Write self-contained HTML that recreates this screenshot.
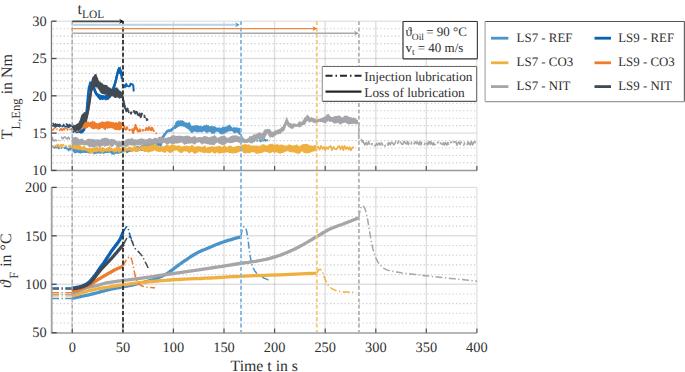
<!DOCTYPE html>
<html><head><meta charset="utf-8"><title>chart</title>
<style>html,body{margin:0;padding:0;background:#fff;}body{width:685px;height:372px;position:relative;overflow:hidden;font-family:"Liberation Serif",serif;}</style>
</head><body>
<svg width="685" height="372" viewBox="0 0 685 372" text-rendering="geometricPrecision" style="position:absolute;left:0;top:0">
<rect width="685" height="372" fill="#fff"/>
<line x1="52.8" y1="162.9" x2="476.9" y2="162.9" stroke="#cdcdcd" stroke-width="1.1" stroke-dasharray="1.3 2.3"/>
<line x1="52.8" y1="155.5" x2="476.9" y2="155.5" stroke="#cdcdcd" stroke-width="1.1" stroke-dasharray="1.3 2.3"/>
<line x1="52.8" y1="148.0" x2="476.9" y2="148.0" stroke="#cdcdcd" stroke-width="1.1" stroke-dasharray="1.3 2.3"/>
<line x1="52.8" y1="140.6" x2="476.9" y2="140.6" stroke="#cdcdcd" stroke-width="1.1" stroke-dasharray="1.3 2.3"/>
<line x1="52.8" y1="125.6" x2="476.9" y2="125.6" stroke="#cdcdcd" stroke-width="1.1" stroke-dasharray="1.3 2.3"/>
<line x1="52.8" y1="118.2" x2="476.9" y2="118.2" stroke="#cdcdcd" stroke-width="1.1" stroke-dasharray="1.3 2.3"/>
<line x1="52.8" y1="110.7" x2="476.9" y2="110.7" stroke="#cdcdcd" stroke-width="1.1" stroke-dasharray="1.3 2.3"/>
<line x1="52.8" y1="103.3" x2="476.9" y2="103.3" stroke="#cdcdcd" stroke-width="1.1" stroke-dasharray="1.3 2.3"/>
<line x1="52.8" y1="88.3" x2="476.9" y2="88.3" stroke="#cdcdcd" stroke-width="1.1" stroke-dasharray="1.3 2.3"/>
<line x1="52.8" y1="80.9" x2="476.9" y2="80.9" stroke="#cdcdcd" stroke-width="1.1" stroke-dasharray="1.3 2.3"/>
<line x1="52.8" y1="73.4" x2="476.9" y2="73.4" stroke="#cdcdcd" stroke-width="1.1" stroke-dasharray="1.3 2.3"/>
<line x1="52.8" y1="66.0" x2="476.9" y2="66.0" stroke="#cdcdcd" stroke-width="1.1" stroke-dasharray="1.3 2.3"/>
<line x1="52.8" y1="51.0" x2="476.9" y2="51.0" stroke="#cdcdcd" stroke-width="1.1" stroke-dasharray="1.3 2.3"/>
<line x1="52.8" y1="43.6" x2="476.9" y2="43.6" stroke="#cdcdcd" stroke-width="1.1" stroke-dasharray="1.3 2.3"/>
<line x1="52.8" y1="36.1" x2="476.9" y2="36.1" stroke="#cdcdcd" stroke-width="1.1" stroke-dasharray="1.3 2.3"/>
<line x1="52.8" y1="28.7" x2="476.9" y2="28.7" stroke="#cdcdcd" stroke-width="1.1" stroke-dasharray="1.3 2.3"/>
<line x1="51.6" y1="58.5" x2="476.9" y2="58.5" stroke="#000" stroke-opacity="0.125" stroke-width="1.4"/>
<line x1="51.6" y1="95.8" x2="476.9" y2="95.8" stroke="#000" stroke-opacity="0.125" stroke-width="1.4"/>
<line x1="51.6" y1="133.1" x2="476.9" y2="133.1" stroke="#000" stroke-opacity="0.125" stroke-width="1.4"/>
<line x1="72.3" y1="21.2" x2="72.3" y2="170.4" stroke="#000" stroke-opacity="0.125" stroke-width="1.4"/>
<line x1="122.9" y1="21.2" x2="122.9" y2="170.4" stroke="#000" stroke-opacity="0.125" stroke-width="1.4"/>
<line x1="173.4" y1="21.2" x2="173.4" y2="170.4" stroke="#000" stroke-opacity="0.125" stroke-width="1.4"/>
<line x1="224.0" y1="21.2" x2="224.0" y2="170.4" stroke="#000" stroke-opacity="0.125" stroke-width="1.4"/>
<line x1="274.6" y1="21.2" x2="274.6" y2="170.4" stroke="#000" stroke-opacity="0.125" stroke-width="1.4"/>
<line x1="325.2" y1="21.2" x2="325.2" y2="170.4" stroke="#000" stroke-opacity="0.125" stroke-width="1.4"/>
<line x1="375.8" y1="21.2" x2="375.8" y2="170.4" stroke="#000" stroke-opacity="0.125" stroke-width="1.4"/>
<line x1="426.3" y1="21.2" x2="426.3" y2="170.4" stroke="#000" stroke-opacity="0.125" stroke-width="1.4"/>
<line x1="52.8" y1="323.0" x2="476.9" y2="323.0" stroke="#cdcdcd" stroke-width="1.1" stroke-dasharray="1.3 2.3"/>
<line x1="52.8" y1="313.3" x2="476.9" y2="313.3" stroke="#cdcdcd" stroke-width="1.1" stroke-dasharray="1.3 2.3"/>
<line x1="52.8" y1="303.6" x2="476.9" y2="303.6" stroke="#cdcdcd" stroke-width="1.1" stroke-dasharray="1.3 2.3"/>
<line x1="52.8" y1="294.0" x2="476.9" y2="294.0" stroke="#cdcdcd" stroke-width="1.1" stroke-dasharray="1.3 2.3"/>
<line x1="52.8" y1="274.6" x2="476.9" y2="274.6" stroke="#cdcdcd" stroke-width="1.1" stroke-dasharray="1.3 2.3"/>
<line x1="52.8" y1="264.9" x2="476.9" y2="264.9" stroke="#cdcdcd" stroke-width="1.1" stroke-dasharray="1.3 2.3"/>
<line x1="52.8" y1="255.2" x2="476.9" y2="255.2" stroke="#cdcdcd" stroke-width="1.1" stroke-dasharray="1.3 2.3"/>
<line x1="52.8" y1="245.5" x2="476.9" y2="245.5" stroke="#cdcdcd" stroke-width="1.1" stroke-dasharray="1.3 2.3"/>
<line x1="52.8" y1="226.1" x2="476.9" y2="226.1" stroke="#cdcdcd" stroke-width="1.1" stroke-dasharray="1.3 2.3"/>
<line x1="52.8" y1="216.5" x2="476.9" y2="216.5" stroke="#cdcdcd" stroke-width="1.1" stroke-dasharray="1.3 2.3"/>
<line x1="52.8" y1="206.8" x2="476.9" y2="206.8" stroke="#cdcdcd" stroke-width="1.1" stroke-dasharray="1.3 2.3"/>
<line x1="52.8" y1="197.1" x2="476.9" y2="197.1" stroke="#cdcdcd" stroke-width="1.1" stroke-dasharray="1.3 2.3"/>
<line x1="51.6" y1="235.8" x2="476.9" y2="235.8" stroke="#000" stroke-opacity="0.125" stroke-width="1.4"/>
<line x1="51.6" y1="284.3" x2="476.9" y2="284.3" stroke="#000" stroke-opacity="0.125" stroke-width="1.4"/>
<line x1="72.3" y1="187.4" x2="72.3" y2="332.7" stroke="#000" stroke-opacity="0.125" stroke-width="1.4"/>
<line x1="122.9" y1="187.4" x2="122.9" y2="332.7" stroke="#000" stroke-opacity="0.125" stroke-width="1.4"/>
<line x1="173.4" y1="187.4" x2="173.4" y2="332.7" stroke="#000" stroke-opacity="0.125" stroke-width="1.4"/>
<line x1="224.0" y1="187.4" x2="224.0" y2="332.7" stroke="#000" stroke-opacity="0.125" stroke-width="1.4"/>
<line x1="274.6" y1="187.4" x2="274.6" y2="332.7" stroke="#000" stroke-opacity="0.125" stroke-width="1.4"/>
<line x1="325.2" y1="187.4" x2="325.2" y2="332.7" stroke="#000" stroke-opacity="0.125" stroke-width="1.4"/>
<line x1="375.8" y1="187.4" x2="375.8" y2="332.7" stroke="#000" stroke-opacity="0.125" stroke-width="1.4"/>
<line x1="426.3" y1="187.4" x2="426.3" y2="332.7" stroke="#000" stroke-opacity="0.125" stroke-width="1.4"/>
<line x1="51.6" y1="21.2" x2="476.9" y2="21.2" stroke="#d8d8d8" stroke-width="1"/>
<line x1="476.9" y1="21.2" x2="476.9" y2="170.4" stroke="#d8d8d8" stroke-width="1"/>
<line x1="51.6" y1="187.4" x2="476.9" y2="187.4" stroke="#d8d8d8" stroke-width="1"/>
<line x1="476.9" y1="187.4" x2="476.9" y2="332.7" stroke="#d8d8d8" stroke-width="1"/>
<polyline points="52.0,147.0 52.2,146.8 52.4,146.6 52.6,146.5 52.7,146.3 52.9,146.1 53.1,146.3 53.3,146.5 53.4,146.8 53.6,147.0 53.8,147.2 54.0,147.4 54.1,147.6 54.3,147.9 54.5,147.7 54.7,147.5 54.9,147.3 55.1,147.1 55.2,147.0 55.4,146.8 55.6,147.0 55.8,147.2 56.0,147.4 56.1,147.6 56.3,147.8 56.5,147.6 56.8,147.5 57.0,147.4 57.2,147.2 57.5,147.1 57.7,147.0 57.9,146.9 58.0,147.1 58.2,147.3 58.3,147.5 58.4,147.8 58.5,148.0 58.7,148.2 58.8,148.5 58.9,148.7 59.0,148.4 59.1,148.2 59.2,147.9 59.3,147.7 59.4,147.5" fill="none" stroke="#4b94c9" stroke-width="1.6" stroke-linejoin="round"/>
<polyline points="61.1,147.7 61.3,147.9 61.4,148.2 61.5,147.9 61.7,147.7 61.8,147.5 61.9,147.3 62.0,147.0" fill="none" stroke="#4b94c9" stroke-width="1.6" stroke-linejoin="round"/>
<polyline points="63.7,147.0 63.9,147.3 64.1,147.5 64.2,147.7 64.4,147.9 64.6,148.2 64.7,148.4 64.9,148.2 65.0,148.0 65.2,147.8 65.3,147.6 65.4,147.3 65.6,147.1 65.7,146.9 65.9,147.2 66.0,147.4 66.1,147.6 66.2,147.8 66.3,148.1 66.4,148.3 66.6,148.5 66.7,148.8 66.8,149.0 67.1,148.8 67.4,148.7 67.6,148.5 67.7,148.7 67.9,149.0 68.0,149.2 68.1,149.4 68.2,149.7 68.3,149.9 68.4,150.1 68.5,150.4 68.6,150.6 68.7,150.4 68.8,150.1 68.9,149.9 68.9,149.7 69.0,149.4 69.1,149.2 69.2,148.9 69.3,148.7 69.4,148.5 69.4,148.2 69.5,148.0 69.6,148.2 69.8,148.4 69.9,148.7 70.0,148.9 70.1,149.1 70.3,149.4 70.4,149.6 70.5,149.4 70.6,149.1 70.7,148.9 70.9,148.7 71.0,148.4 71.1,148.2 71.2,148.0 71.4,147.7 71.5,147.5" fill="none" stroke="#4b94c9" stroke-width="1.6" stroke-linejoin="round"/>
<path d="M72.0,146.1 L72.5,146.7 L73.0,147.3 L73.5,147.9 L74.0,148.6 L74.5,149.0 L75.0,148.5 L75.5,148.3 L76.0,148.1 L76.5,147.7 L77.0,147.6 L77.5,147.8 L78.0,148.5 L78.5,148.3 L79.0,148.4 L79.5,148.7 L80.0,148.7 L80.5,148.9 L81.0,148.4 L81.5,148.5 L82.0,148.8 L82.5,147.8 L83.0,148.6 L83.5,149.3 L84.0,149.7 L84.5,150.0 L85.0,149.9 L85.5,150.3 L86.0,150.2 L86.5,150.0 L87.0,151.0 L87.5,150.2 L88.0,149.9 L88.5,149.9 L89.0,149.7 L89.5,149.7 L90.0,149.1 L90.5,149.9 L91.0,150.5 L91.5,150.0 L92.0,150.5 L92.5,150.5 L93.0,150.2 L93.5,150.1 L94.0,148.8 L94.5,148.9 L95.0,149.1 L95.5,149.6 L96.0,149.9 L96.5,149.0 L97.0,150.4 L97.5,149.6 L98.0,150.1 L98.5,149.4 L99.0,149.8 L99.5,150.0 L100.0,149.6 L100.5,149.6 L101.0,149.8 L101.5,149.5 L102.0,149.4 L102.5,149.8 L103.0,149.5 L103.5,149.0 L104.0,149.8 L104.5,148.6 L105.0,149.4 L105.5,149.3 L106.0,149.6 L106.5,150.1 L107.0,150.2 L107.5,150.4 L108.0,149.8 L108.5,149.9 L109.0,150.7 L109.5,150.3 L110.0,150.0 L110.5,149.7 L111.0,150.3 L111.5,149.9 L112.0,149.9 L112.5,149.3 L113.0,149.6 L113.5,149.4 L114.0,150.1 L114.5,150.4 L115.0,149.4 L115.5,149.8 L116.0,149.2 L116.5,148.6 L117.0,147.7 L117.5,149.1 L118.0,149.0 L118.5,149.1 L119.0,149.7 L119.5,150.0 L120.0,150.2 L120.5,149.4 L121.0,149.9 L121.5,150.0 L122.0,149.8 L122.5,149.5 L123.0,149.5 L123.5,150.2 L124.0,150.1 L124.5,150.3 L125.0,150.5 L125.5,149.9 L126.0,149.2 L126.5,149.6 L127.0,149.0 L127.5,149.5 L128.0,149.0 L128.5,148.4 L129.0,148.3 L129.5,148.2 L130.0,148.0 L130.5,148.3 L131.0,147.8 L131.5,148.1 L132.0,148.2 L132.5,148.3 L133.0,147.7 L133.5,148.2 L134.0,147.5 L134.5,147.7 L135.0,147.0 L135.5,147.5 L136.0,146.3 L136.5,146.2 L137.0,145.7 L137.5,145.9 L138.0,145.9 L138.5,146.3 L139.0,146.9 L139.5,146.5 L140.0,146.4 L140.5,146.2 L141.0,145.5 L141.5,144.9 L142.0,144.8 L142.5,145.1 L143.0,144.1 L143.5,144.3 L144.0,144.6 L144.5,144.3 L145.0,143.9 L145.5,144.0 L146.0,143.6 L146.5,143.0 L147.0,142.7 L147.5,143.2 L148.0,143.9 L148.5,143.7 L149.0,143.9 L149.5,144.2 L150.0,143.4 L150.5,143.2 L151.0,142.1 L151.5,141.9 L152.0,140.4 L152.5,140.9 L153.0,140.3 L153.5,139.6 L154.0,140.1 L154.5,139.6 L155.0,138.7 L155.5,139.5 L156.0,140.3 L156.5,140.5 L157.0,141.3 L157.5,141.9 L158.0,142.4 L158.5,142.8 L159.0,143.5 L159.5,143.7 L160.0,143.4 L160.5,142.4 L161.0,143.0 L161.5,140.3 L162.0,137.1 L162.5,134.9 L163.0,135.0 L163.5,133.3 L164.0,133.4 L164.5,133.4 L165.0,131.7 L165.5,131.5 L166.0,131.2 L166.5,130.0 L167.0,129.7 L167.5,129.8 L168.0,129.2 L168.5,129.4 L169.0,129.5 L169.5,129.7 L170.0,129.2 L170.5,129.0 L171.0,128.6 L171.5,128.3 L172.0,128.2 L172.5,127.6 L173.0,126.9 L173.5,126.5 L174.0,126.9 L174.5,125.6 L175.0,124.2 L175.5,122.0 L176.0,121.7 L176.5,121.2 L177.0,121.1 L177.5,120.6 L178.0,120.4 L178.5,120.6 L179.0,119.9 L179.5,120.8 L180.0,120.5 L180.5,120.1 L181.0,120.7 L181.5,120.7 L182.0,119.7 L182.5,120.1 L183.0,120.7 L183.5,121.1 L184.0,121.3 L184.5,121.6 L185.0,122.7 L185.5,122.5 L186.0,122.0 L186.5,122.1 L187.0,123.2 L187.5,122.8 L188.0,122.9 L188.5,122.5 L189.0,121.9 L189.5,122.3 L190.0,122.4 L190.5,123.7 L191.0,124.8 L191.5,125.9 L192.0,125.6 L192.5,125.7 L193.0,125.8 L193.5,125.7 L194.0,125.6 L194.5,125.4 L195.0,125.2 L195.5,125.5 L196.0,125.2 L196.5,124.9 L197.0,125.0 L197.5,125.3 L198.0,125.4 L198.5,125.6 L199.0,125.7 L199.5,125.8 L200.0,125.8 L200.5,125.5 L201.0,126.2 L201.5,126.5 L202.0,126.4 L202.5,126.1 L203.0,126.1 L203.5,125.6 L204.0,125.1 L204.5,125.6 L205.0,125.2 L205.5,125.6 L206.0,124.9 L206.5,124.3 L207.0,124.6 L207.5,125.6 L208.0,125.3 L208.5,125.2 L209.0,125.6 L209.5,126.2 L210.0,126.2 L210.5,126.0 L211.0,126.4 L211.5,126.1 L212.0,125.8 L212.5,126.1 L213.0,126.5 L213.5,126.3 L214.0,126.4 L214.5,125.9 L215.0,126.4 L215.5,126.9 L216.0,126.9 L216.5,127.6 L217.0,127.7 L217.5,127.7 L218.0,127.3 L218.5,128.0 L219.0,127.6 L219.5,127.2 L220.0,127.5 L220.5,128.4 L221.0,127.6 L221.5,127.7 L222.0,127.5 L222.5,127.1 L223.0,126.6 L223.5,126.9 L224.0,126.9 L224.5,127.0 L225.0,126.8 L225.5,126.5 L226.0,126.7 L226.5,126.5 L227.0,126.3 L227.5,125.8 L228.0,125.2 L228.5,125.3 L229.0,124.5 L229.5,124.4 L230.0,125.2 L230.5,125.4 L231.0,126.3 L231.5,126.4 L232.0,127.4 L232.5,127.7 L233.0,127.6 L233.5,127.3 L234.0,127.2 L234.5,126.7 L235.0,127.7 L235.5,127.4 L236.0,127.6 L236.5,127.2 L237.0,127.6 L237.5,127.2 L238.0,128.0 L238.5,128.2 L239.0,127.4 L239.5,128.1 L240.0,128.2 L240.5,127.4 L240.5,135.7 L240.0,135.0 L239.5,134.7 L239.0,134.7 L238.5,133.8 L238.0,133.7 L237.5,132.8 L237.0,132.7 L236.5,132.6 L236.0,132.7 L235.5,132.9 L235.0,133.5 L234.5,133.0 L234.0,133.4 L233.5,132.7 L233.0,131.6 L232.5,131.7 L232.0,131.3 L231.5,130.8 L231.0,131.4 L230.5,131.3 L230.0,131.1 L229.5,131.9 L229.0,130.7 L228.5,131.4 L228.0,131.4 L227.5,132.3 L227.0,132.3 L226.5,132.6 L226.0,132.7 L225.5,132.8 L225.0,133.4 L224.5,133.6 L224.0,133.5 L223.5,133.7 L223.0,134.3 L222.5,134.2 L222.0,134.5 L221.5,134.0 L221.0,134.7 L220.5,133.9 L220.0,133.4 L219.5,133.5 L219.0,132.7 L218.5,132.0 L218.0,131.9 L217.5,131.8 L217.0,131.5 L216.5,131.8 L216.0,132.1 L215.5,131.9 L215.0,133.6 L214.5,134.2 L214.0,133.1 L213.5,133.6 L213.0,133.9 L212.5,133.7 L212.0,133.7 L211.5,133.7 L211.0,133.0 L210.5,132.3 L210.0,132.0 L209.5,131.8 L209.0,131.8 L208.5,132.2 L208.0,132.5 L207.5,132.6 L207.0,133.7 L206.5,132.6 L206.0,132.8 L205.5,132.1 L205.0,131.9 L204.5,131.4 L204.0,131.1 L203.5,131.8 L203.0,131.6 L202.5,131.7 L202.0,132.8 L201.5,132.4 L201.0,132.0 L200.5,131.9 L200.0,132.0 L199.5,131.7 L199.0,132.3 L198.5,132.0 L198.0,132.5 L197.5,132.2 L197.0,131.9 L196.5,132.4 L196.0,131.8 L195.5,131.6 L195.0,131.9 L194.5,131.7 L194.0,131.7 L193.5,131.5 L193.0,132.5 L192.5,132.7 L192.0,133.3 L191.5,133.1 L191.0,132.6 L190.5,131.8 L190.0,131.3 L189.5,131.0 L189.0,129.7 L188.5,129.6 L188.0,129.2 L187.5,129.0 L187.0,128.5 L186.5,128.6 L186.0,127.4 L185.5,127.7 L185.0,127.6 L184.5,126.7 L184.0,126.9 L183.5,127.0 L183.0,126.1 L182.5,126.3 L182.0,126.4 L181.5,126.2 L181.0,126.3 L180.5,126.5 L180.0,126.1 L179.5,126.2 L179.0,126.5 L178.5,127.0 L178.0,127.0 L177.5,127.4 L177.0,128.0 L176.5,128.2 L176.0,128.3 L175.5,129.2 L175.0,129.0 L174.5,128.8 L174.0,129.8 L173.5,129.1 L173.0,130.5 L172.5,130.8 L172.0,132.1 L171.5,131.7 L171.0,131.9 L170.5,131.7 L170.0,131.6 L169.5,132.4 L169.0,131.9 L168.5,132.3 L168.0,132.5 L167.5,132.0 L167.0,132.5 L166.5,133.7 L166.0,134.1 L165.5,134.8 L165.0,135.2 L164.5,136.9 L164.0,137.2 L163.5,139.1 L163.0,139.9 L162.5,140.9 L162.0,143.3 L161.5,145.0 L161.0,147.1 L160.5,146.8 L160.0,146.5 L159.5,146.1 L159.0,146.7 L158.5,146.4 L158.0,146.5 L157.5,146.5 L157.0,145.7 L156.5,145.5 L156.0,145.0 L155.5,143.9 L155.0,143.7 L154.5,144.6 L154.0,144.6 L153.5,145.1 L153.0,145.0 L152.5,145.9 L152.0,146.1 L151.5,146.4 L151.0,147.4 L150.5,147.6 L150.0,147.7 L149.5,147.6 L149.0,148.3 L148.5,148.1 L148.0,148.9 L147.5,149.0 L147.0,148.8 L146.5,149.3 L146.0,149.7 L145.5,150.3 L145.0,150.4 L144.5,150.9 L144.0,150.6 L143.5,151.1 L143.0,151.1 L142.5,150.7 L142.0,150.8 L141.5,151.1 L141.0,150.9 L140.5,150.4 L140.0,150.3 L139.5,150.9 L139.0,150.7 L138.5,151.1 L138.0,151.9 L137.5,151.8 L137.0,151.7 L136.5,151.5 L136.0,151.4 L135.5,151.4 L135.0,151.8 L134.5,151.1 L134.0,150.7 L133.5,151.2 L133.0,151.2 L132.5,151.0 L132.0,151.2 L131.5,150.7 L131.0,151.6 L130.5,152.0 L130.0,151.2 L129.5,151.8 L129.0,152.1 L128.5,152.2 L128.0,152.9 L127.5,153.0 L127.0,153.7 L126.5,152.8 L126.0,152.5 L125.5,151.9 L125.0,152.3 L124.5,151.5 L124.0,151.4 L123.5,152.3 L123.0,152.3 L122.5,152.5 L122.0,153.2 L121.5,153.1 L121.0,152.8 L120.5,153.3 L120.0,153.5 L119.5,153.5 L119.0,153.8 L118.5,153.9 L118.0,153.6 L117.5,154.0 L117.0,153.5 L116.5,153.6 L116.0,154.1 L115.5,154.0 L115.0,153.8 L114.5,154.7 L114.0,154.5 L113.5,154.7 L113.0,154.5 L112.5,154.7 L112.0,154.7 L111.5,154.2 L111.0,153.5 L110.5,152.6 L110.0,153.5 L109.5,152.1 L109.0,152.1 L108.5,153.2 L108.0,152.9 L107.5,153.1 L107.0,153.3 L106.5,153.1 L106.0,153.0 L105.5,153.1 L105.0,153.3 L104.5,153.5 L104.0,153.8 L103.5,154.0 L103.0,153.4 L102.5,153.6 L102.0,153.3 L101.5,153.5 L101.0,153.7 L100.5,153.7 L100.0,153.6 L99.5,153.2 L99.0,153.7 L98.5,153.3 L98.0,153.6 L97.5,153.5 L97.0,153.6 L96.5,153.7 L96.0,154.3 L95.5,153.7 L95.0,153.9 L94.5,154.2 L94.0,154.5 L93.5,154.3 L93.0,152.8 L92.5,153.0 L92.0,152.4 L91.5,153.0 L91.0,152.9 L90.5,153.8 L90.0,153.1 L89.5,153.7 L89.0,153.7 L88.5,153.2 L88.0,153.0 L87.5,153.1 L87.0,152.6 L86.5,152.7 L86.0,153.1 L85.5,152.8 L85.0,152.3 L84.5,152.3 L84.0,152.8 L83.5,152.5 L83.0,153.2 L82.5,152.8 L82.0,153.1 L81.5,153.1 L81.0,153.7 L80.5,153.7 L80.0,153.1 L79.5,153.6 L79.0,153.3 L78.5,153.0 L78.0,152.5 L77.5,152.7 L77.0,153.1 L76.5,152.8 L76.0,152.9 L75.5,153.7 L75.0,153.3 L74.5,153.0 L74.0,153.5 L73.5,152.1 L73.0,151.8 L72.5,150.9 L72.0,150.4 Z" fill="#4b94c9"/>
<polyline points="72.0,148.0 72.5,148.5 73.0,149.1 73.5,149.6 74.0,150.1 74.5,150.1 75.0,150.2 75.5,150.2 76.0,150.2 76.5,150.3 77.0,150.3 77.5,150.3 78.0,150.3 78.5,150.5 79.0,150.7 79.5,150.8 80.0,151.0 80.5,151.2 81.0,151.3 81.5,151.5 82.0,151.7 82.5,151.7 83.0,151.7 83.5,151.7 84.0,151.7 84.5,151.7 85.0,151.7 85.5,151.7 86.0,151.7 86.5,151.7 87.0,151.7 87.5,151.7 88.0,151.7 88.5,151.7 89.0,151.7 89.5,151.7 90.0,151.7 90.5,151.6 91.0,151.6 91.5,151.6 92.0,151.6 92.5,151.6 93.0,151.6 93.5,151.6 94.0,151.6 94.5,151.5 95.0,151.5 95.5,151.5 96.0,151.5 96.5,151.5 97.0,151.5 97.5,151.5 98.0,151.4 98.5,151.4 99.0,151.4 99.5,151.4 100.0,151.3 100.5,151.3 101.0,151.3 101.5,151.2 102.0,151.2 102.5,151.2 103.0,151.1 103.5,151.1 104.0,151.1 104.5,151.0 105.0,151.0 105.5,151.0 106.0,151.1 106.5,151.1 107.0,151.2 107.5,151.2 108.0,151.3 108.5,151.3 109.0,151.4 109.5,151.4 110.0,151.5 110.5,151.5 111.0,151.6 111.5,151.6 112.0,151.7 112.5,151.7 113.0,151.7 113.5,151.7 114.0,151.7 114.5,151.7 115.0,151.7 115.5,151.7 116.0,151.7 116.5,151.7 117.0,151.7 117.5,151.7 118.0,151.7 118.5,151.5 119.0,151.4 119.5,151.3 120.0,151.2 120.5,151.1 121.0,151.0 121.5,150.9 122.0,150.8 122.5,150.8 123.0,150.8 123.5,150.7 124.0,150.7 124.5,150.7 125.0,150.7 125.5,150.7 126.0,150.7 126.5,150.6 127.0,150.6 127.5,150.6 128.0,150.6 128.5,150.6 129.0,150.5 129.5,150.5 130.0,150.5 130.5,150.4 131.0,150.3 131.5,150.2 132.0,150.1 132.5,150.1 133.0,150.0 133.5,149.9 134.0,149.8 134.5,149.7 135.0,149.6 135.5,149.5 136.0,149.4 136.5,149.4 137.0,149.3 137.5,149.2 138.0,149.1 138.5,149.0 139.0,148.9 139.5,148.8 140.0,148.8 140.5,148.6 141.0,148.4 141.5,148.3 142.0,148.2 142.5,148.0 143.0,147.8 143.5,147.7 144.0,147.6 144.5,147.4 145.0,147.2 145.5,147.1 146.0,146.9 146.5,146.8 147.0,146.7 147.5,146.5 148.0,146.3 148.5,146.2 149.0,146.1 149.5,145.9 150.0,145.8 150.5,145.4 151.0,144.9 151.5,144.6 152.0,144.1 152.5,143.8 153.0,143.4 153.5,142.9 154.0,142.6 154.5,142.1 155.0,141.8 155.5,142.1 156.0,142.5 156.5,142.9 157.0,143.2 157.5,143.6 158.0,144.0 158.5,144.1 159.0,144.2 159.5,144.4 160.0,144.5 160.5,144.6 161.0,144.8 161.5,142.7 162.0,140.6 162.5,138.5 163.0,137.6 163.5,136.8 164.0,135.9 164.5,135.1 165.0,134.3 165.5,133.6 166.0,132.9 166.5,132.2 167.0,131.6 167.5,131.4 168.0,131.1 168.5,130.8 169.0,130.5 169.5,130.3 170.0,130.1 170.5,129.9 171.0,129.7 171.5,129.4 172.0,129.0 172.5,128.7 173.0,128.3 173.5,128.0 174.0,127.5 174.5,126.9 175.0,126.2 175.5,125.6 176.0,125.0 176.5,124.8 177.0,124.6 177.5,124.4 178.0,124.2 178.5,124.2 179.0,124.2 179.5,124.1 180.0,124.1 180.5,124.1 181.0,124.0 181.5,124.0 182.0,124.0 182.5,123.9 183.0,123.9 183.5,124.0 184.0,124.1 184.5,124.2 185.0,124.3 185.5,124.4 186.0,124.5 186.5,124.6 187.0,124.7 187.5,124.9 188.0,125.3 188.5,125.8 189.0,126.2 189.5,126.6 190.0,127.4 190.5,128.1 191.0,128.9 191.5,129.6 192.0,129.7 192.5,129.6 193.0,129.4 193.5,129.3 194.0,129.2 194.5,129.1 195.0,129.0 195.5,129.0 196.0,129.0 196.5,129.0 197.0,129.0 197.5,128.9 198.0,128.9 198.5,128.9 199.0,128.9 199.5,128.9 200.0,128.9 200.5,128.9 201.0,129.0 201.5,129.0 202.0,129.1 202.5,129.1 203.0,129.2 203.5,129.2 204.0,129.3 204.5,129.3 205.0,129.3 205.5,129.3 206.0,129.3 206.5,129.3 207.0,129.3 207.5,129.3 208.0,129.3 208.5,129.3 209.0,129.3 209.5,129.3 210.0,129.3 210.5,129.3 211.0,129.3 211.5,129.3 212.0,129.2 212.5,129.2 213.0,129.2 213.5,129.2 214.0,129.1 214.5,129.1 215.0,129.1 215.5,129.2 216.0,129.3 216.5,129.3 217.0,129.4 217.5,129.5 218.0,129.6 218.5,129.7 219.0,129.8 219.5,130.0 220.0,130.3 220.5,130.6 221.0,130.8 221.5,130.6 222.0,130.4 222.5,130.2 223.0,129.9 223.5,129.7 224.0,129.5 224.5,129.4 225.0,129.3 225.5,129.2 226.0,129.1 226.5,129.0 227.0,128.9 227.5,128.8 228.0,128.8 228.5,128.8 229.0,128.9 229.5,128.9 230.0,129.0 230.5,129.1 231.0,129.1 231.5,129.2 232.0,129.2 232.5,129.3 233.0,129.3 233.5,129.3 234.0,129.3 234.5,129.3 235.0,129.4 235.5,129.4 236.0,129.4 236.5,129.6 237.0,129.9 237.5,130.1 238.0,130.3 238.5,130.5 239.0,130.8 239.5,131.0 240.0,131.2 240.5,131.4" fill="none" stroke="#4b94c9" stroke-width="2.2" stroke-linejoin="round"/>
<polyline points="241.0,134.0 241.0,134.3 241.0,134.5 241.0,134.8 241.0,135.0 241.1,135.3 241.1,135.5 241.1,135.8 241.1,136.1 241.5,136.1 241.5,136.4 241.6,136.6 241.6,136.9 241.6,137.2 241.7,137.4 241.7,137.7 241.8,138.0 241.8,138.2" fill="none" stroke="#4b94c9" stroke-width="1.7" stroke-linejoin="round"/>
<polyline points="243.4,138.9 243.5,139.2 243.6,139.4 243.7,139.6 243.8,139.9 243.9,140.1 244.1,140.0 244.4,139.8" fill="none" stroke="#4b94c9" stroke-width="1.7" stroke-linejoin="round"/>
<polyline points="246.0,140.3 246.3,140.5 246.5,140.3 246.7,140.1 247.0,139.9 247.2,139.7 247.4,139.6 247.6,139.8 247.8,140.0 248.0,140.2 248.1,140.4 248.3,140.6 248.5,140.8 248.7,140.7 249.0,140.5 249.2,140.4 249.5,140.3 249.7,140.1 249.9,140.0 250.2,140.2 250.4,140.3 250.6,140.5 250.8,140.7 251.0,140.8 251.2,141.0 251.4,141.2 251.6,140.9 251.8,140.7 252.0,140.4 252.2,140.2 252.5,140.2 252.7,140.3 253.0,140.3 253.2,140.3 253.5,140.3 253.7,140.4 253.9,140.6 254.1,140.8 254.2,140.9 254.4,141.1 254.5,141.3 254.7,141.5 254.9,141.4" fill="none" stroke="#4b94c9" stroke-width="1.7" stroke-linejoin="round"/>
<polyline points="256.5,140.5 256.8,140.4 257.0,140.7 257.1,140.9 257.3,141.1 257.5,141.4 257.6,141.6" fill="none" stroke="#4b94c9" stroke-width="1.7" stroke-linejoin="round"/>
<polyline points="259.2,140.4 259.4,140.2 259.6,140.4 259.8,140.6 260.0,140.7 260.2,140.9 260.4,141.1 260.6,141.2 260.7,141.4 260.9,141.2 261.1,140.9 261.3,140.7 261.4,140.5 261.6,140.2 261.8,140.0 262.0,140.1 262.3,140.2 262.5,140.3 262.7,140.4 263.0,140.5 263.2,140.6 263.5,140.7 263.6,140.5 263.8,140.2 263.9,140.0 264.1,139.8 264.3,139.6 264.4,139.3 264.6,139.1 264.7,139.4 264.8,139.6 264.9,139.9 265.0,140.1 265.1,140.4 265.3,140.6 265.4,140.9 265.6,140.7 265.8,140.6 266.1,140.4 266.3,140.3 266.6,140.2 266.8,140.0 267.1,140.1 267.4,140.2 267.6,140.3 267.9,140.4 268.1,140.3" fill="none" stroke="#4b94c9" stroke-width="1.7" stroke-linejoin="round"/>
<polyline points="269.8,139.1 270.0,139.0" fill="none" stroke="#4b94c9" stroke-width="1.7" stroke-linejoin="round"/>
<polyline points="52.3,146.2 52.5,146.4 52.6,146.6 52.8,146.8 52.9,147.1 53.0,146.8 53.1,146.6 53.2,146.4 53.3,146.1 53.4,145.9" fill="none" stroke="#f0b040" stroke-width="1.6" stroke-linejoin="round"/>
<polyline points="55.1,145.0 55.3,145.2 55.5,145.4 55.6,145.6 55.8,145.8 56.0,146.0 56.1,146.2 56.3,146.4 56.5,146.6 56.6,146.4 56.7,146.1 56.8,145.9 56.9,145.6 57.0,145.4 57.1,145.1 57.2,144.9 57.3,144.7 57.4,144.4 57.7,144.5 57.9,144.5 58.1,144.5 58.4,144.6 58.5,144.8 58.6,145.0 58.7,145.3 58.8,145.5 58.9,145.7 59.0,146.0 59.1,146.2 59.2,146.4 59.3,146.7 59.4,146.9 59.5,147.1 59.6,146.9 59.8,146.7 59.9,146.4 60.0,146.2 60.2,146.0 60.3,145.7 60.4,145.5 60.6,145.3 60.7,145.1 60.8,144.8 60.9,144.6 61.1,144.8 61.2,145.1 61.3,145.3 61.4,145.5 61.5,145.7 61.6,146.0 61.7,146.2 61.8,146.4 61.9,146.7 62.0,146.4 62.1,146.2 62.3,145.9 62.4,145.7 62.5,145.4 62.7,145.2 62.8,145.0 62.9,144.7 63.1,144.5 63.2,144.7 63.3,144.9 63.5,145.1 63.6,145.3 63.8,145.6 63.9,145.8" fill="none" stroke="#f0b040" stroke-width="1.6" stroke-linejoin="round"/>
<polyline points="65.5,145.2 65.6,145.4 65.8,145.6 66.0,145.8 66.1,146.0 66.3,146.3 66.5,146.5 66.6,146.7" fill="none" stroke="#f0b040" stroke-width="1.6" stroke-linejoin="round"/>
<polyline points="68.3,145.9 68.4,146.1 68.6,146.3 68.8,146.1 69.0,145.9 69.2,145.7 69.4,145.5 69.6,145.4 69.8,145.2 69.9,145.4 70.0,145.6 70.1,145.9 70.2,146.1 70.3,146.3 70.4,146.5 70.5,146.8 70.6,147.0 70.8,146.8 71.0,146.6 71.2,146.4 71.4,146.3 71.6,146.1 71.8,145.9 72.0,145.7" fill="none" stroke="#f0b040" stroke-width="1.6" stroke-linejoin="round"/>
<path d="M72.0,143.0 L72.5,142.5 L73.0,142.2 L73.5,142.3 L74.0,142.1 L74.5,142.0 L75.0,143.2 L75.5,143.0 L76.0,143.6 L76.5,144.6 L77.0,144.7 L77.5,144.4 L78.0,144.2 L78.5,144.5 L79.0,144.9 L79.5,144.6 L80.0,145.3 L80.5,145.4 L81.0,146.0 L81.5,146.2 L82.0,146.9 L82.5,146.9 L83.0,145.9 L83.5,146.1 L84.0,146.0 L84.5,145.6 L85.0,146.3 L85.5,147.3 L86.0,148.3 L86.5,148.2 L87.0,148.5 L87.5,147.9 L88.0,149.0 L88.5,148.4 L89.0,148.4 L89.5,148.1 L90.0,148.2 L90.5,147.8 L91.0,148.0 L91.5,147.9 L92.0,147.7 L92.5,147.8 L93.0,147.5 L93.5,148.2 L94.0,147.6 L94.5,147.3 L95.0,147.5 L95.5,147.0 L96.0,146.5 L96.5,146.4 L97.0,146.2 L97.5,146.2 L98.0,147.0 L98.5,147.9 L99.0,148.1 L99.5,148.3 L100.0,148.1 L100.5,147.8 L101.0,147.5 L101.5,147.5 L102.0,147.0 L102.5,146.6 L103.0,147.6 L103.5,147.6 L104.0,148.3 L104.5,148.2 L105.0,148.5 L105.5,149.1 L106.0,148.1 L106.5,148.0 L107.0,148.0 L107.5,147.3 L108.0,147.0 L108.5,147.3 L109.0,146.6 L109.5,145.8 L110.0,146.3 L110.5,147.3 L111.0,147.2 L111.5,147.7 L112.0,148.2 L112.5,148.6 L113.0,148.9 L113.5,148.7 L114.0,148.5 L114.5,148.7 L115.0,148.7 L115.5,148.1 L116.0,147.1 L116.5,146.8 L117.0,146.3 L117.5,146.4 L118.0,146.4 L118.5,146.3 L119.0,146.7 L119.5,146.6 L120.0,147.7 L120.5,147.7 L121.0,147.4 L121.5,148.3 L122.0,148.4 L122.5,147.2 L123.0,148.0 L123.5,147.3 L124.0,147.3 L124.5,146.0 L125.0,146.9 L125.5,147.2 L126.0,147.5 L126.5,147.9 L127.0,148.6 L127.5,147.4 L128.0,147.1 L128.5,146.7 L129.0,146.6 L129.5,146.2 L130.0,146.8 L130.5,147.0 L131.0,147.2 L131.5,147.3 L132.0,147.7 L132.5,147.7 L133.0,147.2 L133.5,146.6 L134.0,146.1 L134.5,146.2 L135.0,145.8 L135.5,146.3 L136.0,146.7 L136.5,146.4 L137.0,146.9 L137.5,146.5 L138.0,147.4 L138.5,147.3 L139.0,147.0 L139.5,147.9 L140.0,147.0 L140.5,147.2 L141.0,146.2 L141.5,145.9 L142.0,145.6 L142.5,145.4 L143.0,145.5 L143.5,145.3 L144.0,145.6 L144.5,145.4 L145.0,145.5 L145.5,144.7 L146.0,146.0 L146.5,145.7 L147.0,145.3 L147.5,145.7 L148.0,145.6 L148.5,145.7 L149.0,144.9 L149.5,145.5 L150.0,144.8 L150.5,145.4 L151.0,144.5 L151.5,144.6 L152.0,144.1 L152.5,143.9 L153.0,144.7 L153.5,144.7 L154.0,145.0 L154.5,144.9 L155.0,144.4 L155.5,144.1 L156.0,144.4 L156.5,144.4 L157.0,144.3 L157.5,145.2 L158.0,145.5 L158.5,145.8 L159.0,146.3 L159.5,146.7 L160.0,146.6 L160.5,146.6 L161.0,146.5 L161.5,145.9 L162.0,145.5 L162.5,146.5 L163.0,146.2 L163.5,146.6 L164.0,145.8 L164.5,146.3 L165.0,146.0 L165.5,145.1 L166.0,145.0 L166.5,144.9 L167.0,144.6 L167.5,145.1 L168.0,144.7 L168.5,144.8 L169.0,145.7 L169.5,146.2 L170.0,145.6 L170.5,144.8 L171.0,145.0 L171.5,144.7 L172.0,144.3 L172.5,144.2 L173.0,144.7 L173.5,145.1 L174.0,144.9 L174.5,144.8 L175.0,145.5 L175.5,145.7 L176.0,145.6 L176.5,145.9 L177.0,145.6 L177.5,145.6 L178.0,145.4 L178.5,145.5 L179.0,145.7 L179.5,145.0 L180.0,146.0 L180.5,146.1 L181.0,146.2 L181.5,146.4 L182.0,147.1 L182.5,146.3 L183.0,146.2 L183.5,145.7 L184.0,146.0 L184.5,146.1 L185.0,145.8 L185.5,145.8 L186.0,145.6 L186.5,145.8 L187.0,145.3 L187.5,146.2 L188.0,145.9 L188.5,145.9 L189.0,146.2 L189.5,146.3 L190.0,146.4 L190.5,146.1 L191.0,144.9 L191.5,145.2 L192.0,144.8 L192.5,144.9 L193.0,145.2 L193.5,145.9 L194.0,146.5 L194.5,147.3 L195.0,147.0 L195.5,146.3 L196.0,146.8 L196.5,146.1 L197.0,146.7 L197.5,146.0 L198.0,146.0 L198.5,145.9 L199.0,145.9 L199.5,146.4 L200.0,146.5 L200.5,146.6 L201.0,146.8 L201.5,146.4 L202.0,147.0 L202.5,146.7 L203.0,146.2 L203.5,146.4 L204.0,145.7 L204.5,145.4 L205.0,145.7 L205.5,145.8 L206.0,147.0 L206.5,147.7 L207.0,147.7 L207.5,147.1 L208.0,146.4 L208.5,147.0 L209.0,147.1 L209.5,146.6 L210.0,146.7 L210.5,146.7 L211.0,146.5 L211.5,145.9 L212.0,146.2 L212.5,146.4 L213.0,145.9 L213.5,146.5 L214.0,146.4 L214.5,147.0 L215.0,147.0 L215.5,146.4 L216.0,145.9 L216.5,146.7 L217.0,146.3 L217.5,146.4 L218.0,145.4 L218.5,146.0 L219.0,146.2 L219.5,146.0 L220.0,145.6 L220.5,146.1 L221.0,146.3 L221.5,146.9 L222.0,147.2 L222.5,146.5 L223.0,145.7 L223.5,145.9 L224.0,145.2 L224.5,145.1 L225.0,145.4 L225.5,146.2 L226.0,146.5 L226.5,146.4 L227.0,147.1 L227.5,147.2 L228.0,146.2 L228.5,146.1 L229.0,146.0 L229.5,145.7 L230.0,145.7 L230.5,145.3 L231.0,145.5 L231.5,146.2 L232.0,146.4 L232.5,147.2 L233.0,146.4 L233.5,147.1 L234.0,147.2 L234.5,146.6 L235.0,146.6 L235.5,146.7 L236.0,146.2 L236.5,146.1 L237.0,146.0 L237.5,145.7 L238.0,146.1 L238.5,145.8 L239.0,145.8 L239.5,146.1 L240.0,145.6 L240.5,145.6 L241.0,145.8 L241.5,145.2 L242.0,144.9 L242.5,145.0 L243.0,144.5 L243.5,144.8 L244.0,143.9 L244.5,144.3 L245.0,143.9 L245.5,143.9 L246.0,144.7 L246.5,143.9 L247.0,144.7 L247.5,144.4 L248.0,144.7 L248.5,144.1 L249.0,144.8 L249.5,144.9 L250.0,144.7 L250.5,144.9 L251.0,146.0 L251.5,145.6 L252.0,145.6 L252.5,145.5 L253.0,145.7 L253.5,145.5 L254.0,145.4 L254.5,145.8 L255.0,145.2 L255.5,145.5 L256.0,145.8 L256.5,145.1 L257.0,145.8 L257.5,146.2 L258.0,145.5 L258.5,145.8 L259.0,146.0 L259.5,146.0 L260.0,146.2 L260.5,145.1 L261.0,145.4 L261.5,145.2 L262.0,143.9 L262.5,144.3 L263.0,143.9 L263.5,144.7 L264.0,144.3 L264.5,144.5 L265.0,144.9 L265.5,145.2 L266.0,145.2 L266.5,145.6 L267.0,145.6 L267.5,145.5 L268.0,144.7 L268.5,144.7 L269.0,143.8 L269.5,143.9 L270.0,144.6 L270.5,144.0 L271.0,143.6 L271.5,144.0 L272.0,143.7 L272.5,143.6 L273.0,144.1 L273.5,144.8 L274.0,144.8 L274.5,144.9 L275.0,144.5 L275.5,144.3 L276.0,144.9 L276.5,144.4 L277.0,143.9 L277.5,143.7 L278.0,144.1 L278.5,145.4 L279.0,144.4 L279.5,144.9 L280.0,144.9 L280.5,144.7 L281.0,144.6 L281.5,144.2 L282.0,144.2 L282.5,145.2 L283.0,144.7 L283.5,145.4 L284.0,144.8 L284.5,145.5 L285.0,145.6 L285.5,145.9 L286.0,145.2 L286.5,145.7 L287.0,145.7 L287.5,145.1 L288.0,145.3 L288.5,144.6 L289.0,144.4 L289.5,144.5 L290.0,143.9 L290.5,144.9 L291.0,144.9 L291.5,145.0 L292.0,145.5 L292.5,145.8 L293.0,145.4 L293.5,145.8 L294.0,145.0 L294.5,144.8 L295.0,145.5 L295.5,145.0 L296.0,144.9 L296.5,144.2 L297.0,144.5 L297.5,144.8 L298.0,145.4 L298.5,145.6 L299.0,146.4 L299.5,146.3 L300.0,145.8 L300.5,145.3 L301.0,145.7 L301.5,144.7 L302.0,144.2 L302.5,144.2 L303.0,144.3 L303.5,143.9 L304.0,144.2 L304.5,144.0 L305.0,144.0 L305.5,143.8 L306.0,144.1 L306.5,143.9 L307.0,144.0 L307.5,144.3 L308.0,144.6 L308.5,144.2 L309.0,145.0 L309.5,145.2 L310.0,145.7 L310.5,145.1 L311.0,145.5 L311.5,145.7 L312.0,145.8 L312.5,146.1 L313.0,145.6 L313.5,145.9 L314.0,145.1 L314.5,144.9 L315.0,145.6 L315.5,145.1 L316.0,144.8 L316.5,144.5 L316.5,152.9 L316.0,151.3 L315.5,151.3 L315.0,151.0 L314.5,151.2 L314.0,151.3 L313.5,151.4 L313.0,151.3 L312.5,152.0 L312.0,152.2 L311.5,152.0 L311.0,152.7 L310.5,151.8 L310.0,153.3 L309.5,152.8 L309.0,153.4 L308.5,153.1 L308.0,152.9 L307.5,153.0 L307.0,153.6 L306.5,153.4 L306.0,153.3 L305.5,153.1 L305.0,152.7 L304.5,153.3 L304.0,153.2 L303.5,152.7 L303.0,151.7 L302.5,151.6 L302.0,151.6 L301.5,151.5 L301.0,151.7 L300.5,153.0 L300.0,153.0 L299.5,153.9 L299.0,154.0 L298.5,153.4 L298.0,153.5 L297.5,154.2 L297.0,153.1 L296.5,153.7 L296.0,153.0 L295.5,152.9 L295.0,152.9 L294.5,152.8 L294.0,152.4 L293.5,152.4 L293.0,151.6 L292.5,152.3 L292.0,152.9 L291.5,152.2 L291.0,151.9 L290.5,152.1 L290.0,152.1 L289.5,152.2 L289.0,151.2 L288.5,151.6 L288.0,151.7 L287.5,150.8 L287.0,151.5 L286.5,151.2 L286.0,151.7 L285.5,151.6 L285.0,151.7 L284.5,152.2 L284.0,152.5 L283.5,152.7 L283.0,152.9 L282.5,153.1 L282.0,153.1 L281.5,152.9 L281.0,153.6 L280.5,153.7 L280.0,153.4 L279.5,153.9 L279.0,153.1 L278.5,153.0 L278.0,153.1 L277.5,153.0 L277.0,152.5 L276.5,152.6 L276.0,152.6 L275.5,152.3 L275.0,153.1 L274.5,152.9 L274.0,152.5 L273.5,152.7 L273.0,151.7 L272.5,151.9 L272.0,152.2 L271.5,152.4 L271.0,152.7 L270.5,152.9 L270.0,153.4 L269.5,153.1 L269.0,153.4 L268.5,152.7 L268.0,152.8 L267.5,152.0 L267.0,152.2 L266.5,151.9 L266.0,152.3 L265.5,151.7 L265.0,151.6 L264.5,152.3 L264.0,151.8 L263.5,152.5 L263.0,152.6 L262.5,152.5 L262.0,153.2 L261.5,153.0 L261.0,153.2 L260.5,153.3 L260.0,152.8 L259.5,153.5 L259.0,153.7 L258.5,153.3 L258.0,153.8 L257.5,153.8 L257.0,153.8 L256.5,154.1 L256.0,153.2 L255.5,154.0 L255.0,152.7 L254.5,152.6 L254.0,152.3 L253.5,152.3 L253.0,152.4 L252.5,152.1 L252.0,152.2 L251.5,152.5 L251.0,152.2 L250.5,153.1 L250.0,153.1 L249.5,153.5 L249.0,153.2 L248.5,153.0 L248.0,152.9 L247.5,153.1 L247.0,152.6 L246.5,153.6 L246.0,153.4 L245.5,153.3 L245.0,153.2 L244.5,153.4 L244.0,153.4 L243.5,152.9 L243.0,152.5 L242.5,151.9 L242.0,151.1 L241.5,151.6 L241.0,151.3 L240.5,151.7 L240.0,151.8 L239.5,151.8 L239.0,151.8 L238.5,152.5 L238.0,152.3 L237.5,152.4 L237.0,153.0 L236.5,153.0 L236.0,153.2 L235.5,153.4 L235.0,153.0 L234.5,153.2 L234.0,153.6 L233.5,153.4 L233.0,153.2 L232.5,153.5 L232.0,153.6 L231.5,153.5 L231.0,152.9 L230.5,153.3 L230.0,153.3 L229.5,153.1 L229.0,153.0 L228.5,152.9 L228.0,152.8 L227.5,151.9 L227.0,152.6 L226.5,152.2 L226.0,152.8 L225.5,152.4 L225.0,153.0 L224.5,152.6 L224.0,152.9 L223.5,153.0 L223.0,152.7 L222.5,153.1 L222.0,153.2 L221.5,153.1 L221.0,153.1 L220.5,153.7 L220.0,153.4 L219.5,153.2 L219.0,153.9 L218.5,153.2 L218.0,153.3 L217.5,152.2 L217.0,152.8 L216.5,152.2 L216.0,153.3 L215.5,153.7 L215.0,152.8 L214.5,154.1 L214.0,153.5 L213.5,152.8 L213.0,152.8 L212.5,152.8 L212.0,151.4 L211.5,152.0 L211.0,152.8 L210.5,153.1 L210.0,153.0 L209.5,152.9 L209.0,153.7 L208.5,153.0 L208.0,153.1 L207.5,153.3 L207.0,153.1 L206.5,152.6 L206.0,152.5 L205.5,153.1 L205.0,153.0 L204.5,153.4 L204.0,153.1 L203.5,153.0 L203.0,152.5 L202.5,152.8 L202.0,152.8 L201.5,152.1 L201.0,152.6 L200.5,152.0 L200.0,151.9 L199.5,151.6 L199.0,151.6 L198.5,152.2 L198.0,152.8 L197.5,152.4 L197.0,152.7 L196.5,153.0 L196.0,153.3 L195.5,153.9 L195.0,153.5 L194.5,153.9 L194.0,153.4 L193.5,152.9 L193.0,152.7 L192.5,152.1 L192.0,151.6 L191.5,151.9 L191.0,151.9 L190.5,152.4 L190.0,153.2 L189.5,153.3 L189.0,153.4 L188.5,152.9 L188.0,152.0 L187.5,152.5 L187.0,151.6 L186.5,151.1 L186.0,151.8 L185.5,151.7 L185.0,151.5 L184.5,151.2 L184.0,151.1 L183.5,151.8 L183.0,152.6 L182.5,152.9 L182.0,152.7 L181.5,153.0 L181.0,152.6 L180.5,153.2 L180.0,152.7 L179.5,152.3 L179.0,152.2 L178.5,151.5 L178.0,151.6 L177.5,151.0 L177.0,150.6 L176.5,150.1 L176.0,151.0 L175.5,150.4 L175.0,150.7 L174.5,150.5 L174.0,151.0 L173.5,151.1 L173.0,151.8 L172.5,152.3 L172.0,152.6 L171.5,152.4 L171.0,153.0 L170.5,152.7 L170.0,152.8 L169.5,153.5 L169.0,152.8 L168.5,152.2 L168.0,151.7 L167.5,151.6 L167.0,151.3 L166.5,151.3 L166.0,151.8 L165.5,152.7 L165.0,152.8 L164.5,152.9 L164.0,152.5 L163.5,152.2 L163.0,152.2 L162.5,152.1 L162.0,151.6 L161.5,151.3 L161.0,151.9 L160.5,151.8 L160.0,152.0 L159.5,151.8 L159.0,152.1 L158.5,151.9 L158.0,151.9 L157.5,151.5 L157.0,151.7 L156.5,151.3 L156.0,151.1 L155.5,150.9 L155.0,150.6 L154.5,150.1 L154.0,151.1 L153.5,151.4 L153.0,150.5 L152.5,151.6 L152.0,151.7 L151.5,151.8 L151.0,151.6 L150.5,151.7 L150.0,151.8 L149.5,152.2 L149.0,152.6 L148.5,152.5 L148.0,152.5 L147.5,152.4 L147.0,151.5 L146.5,152.1 L146.0,152.0 L145.5,151.7 L145.0,152.1 L144.5,152.2 L144.0,151.8 L143.5,151.6 L143.0,150.9 L142.5,151.0 L142.0,150.5 L141.5,149.9 L141.0,150.3 L140.5,150.5 L140.0,150.6 L139.5,150.5 L139.0,150.8 L138.5,150.9 L138.0,151.7 L137.5,151.9 L137.0,151.9 L136.5,151.5 L136.0,151.8 L135.5,151.7 L135.0,151.6 L134.5,151.0 L134.0,151.3 L133.5,150.8 L133.0,152.0 L132.5,152.5 L132.0,152.2 L131.5,151.9 L131.0,152.0 L130.5,150.7 L130.0,150.5 L129.5,150.1 L129.0,150.2 L128.5,150.5 L128.0,150.4 L127.5,150.5 L127.0,150.4 L126.5,151.2 L126.0,151.5 L125.5,152.1 L125.0,152.6 L124.5,152.5 L124.0,152.0 L123.5,151.8 L123.0,151.5 L122.5,150.4 L122.0,150.8 L121.5,151.3 L121.0,151.9 L120.5,151.6 L120.0,152.3 L119.5,152.9 L119.0,153.0 L118.5,152.4 L118.0,152.1 L117.5,151.2 L117.0,151.7 L116.5,151.7 L116.0,151.8 L115.5,152.2 L115.0,152.5 L114.5,152.6 L114.0,153.4 L113.5,152.2 L113.0,151.6 L112.5,151.2 L112.0,150.9 L111.5,150.5 L111.0,150.7 L110.5,151.6 L110.0,151.2 L109.5,151.8 L109.0,151.9 L108.5,151.2 L108.0,151.2 L107.5,151.5 L107.0,151.7 L106.5,151.8 L106.0,150.9 L105.5,151.5 L105.0,151.1 L104.5,151.8 L104.0,152.1 L103.5,152.4 L103.0,152.5 L102.5,152.8 L102.0,152.9 L101.5,151.9 L101.0,152.6 L100.5,151.8 L100.0,152.2 L99.5,151.0 L99.0,151.6 L98.5,151.6 L98.0,151.6 L97.5,151.7 L97.0,152.3 L96.5,152.3 L96.0,153.0 L95.5,152.1 L95.0,152.1 L94.5,152.0 L94.0,152.2 L93.5,152.5 L93.0,153.0 L92.5,153.5 L92.0,153.8 L91.5,153.4 L91.0,153.6 L90.5,153.4 L90.0,153.3 L89.5,153.2 L89.0,152.4 L88.5,152.6 L88.0,151.6 L87.5,151.9 L87.0,151.3 L86.5,151.0 L86.0,150.6 L85.5,150.7 L85.0,150.3 L84.5,150.5 L84.0,151.0 L83.5,150.4 L83.0,150.1 L82.5,150.4 L82.0,150.7 L81.5,150.7 L81.0,150.6 L80.5,149.5 L80.0,149.7 L79.5,150.2 L79.0,149.7 L78.5,149.9 L78.0,149.7 L77.5,149.7 L77.0,149.7 L76.5,149.6 L76.0,149.5 L75.5,149.5 L75.0,148.9 L74.5,148.3 L74.0,148.1 L73.5,148.8 L73.0,148.7 L72.5,148.2 L72.0,148.6 Z" fill="#f0b040"/>
<polyline points="72.0,145.2 72.5,145.4 73.0,145.5 73.5,145.6 74.0,145.8 74.5,145.9 75.0,146.0 75.5,146.2 76.0,146.3 76.5,146.4 77.0,146.6 77.5,146.7 78.0,146.9 78.5,147.0 79.0,147.2 79.5,147.3 80.0,147.4 80.5,147.8 81.0,148.1 81.5,148.4 82.0,148.8 82.5,148.8 83.0,148.8 83.5,148.8 84.0,148.9 84.5,148.9 85.0,148.9 85.5,149.0 86.0,149.0 86.5,149.1 87.0,149.1 87.5,149.2 88.0,149.2 88.5,149.3 89.0,149.4 89.5,149.4 90.0,149.5 90.5,149.5 91.0,149.5 91.5,149.5 92.0,149.6 92.5,149.6 93.0,149.6 93.5,149.6 94.0,149.6 94.5,149.6 95.0,149.6 95.5,149.6 96.0,149.7 96.5,149.7 97.0,149.7 97.5,149.7 98.0,149.7 98.5,149.7 99.0,149.7 99.5,149.7 100.0,149.8 100.5,149.8 101.0,149.8 101.5,149.8 102.0,149.8 102.5,149.8 103.0,149.8 103.5,149.8 104.0,149.8 104.5,149.8 105.0,149.9 105.5,149.9 106.0,149.9 106.5,149.9 107.0,149.9 107.5,149.9 108.0,149.9 108.5,149.9 109.0,149.9 109.5,149.9 110.0,149.9 110.5,149.9 111.0,149.9 111.5,149.9 112.0,149.9 112.5,149.9 113.0,149.9 113.5,149.9 114.0,149.9 114.5,149.9 115.0,149.9 115.5,149.8 116.0,149.8 116.5,149.8 117.0,149.8 117.5,149.8 118.0,149.8 118.5,149.8 119.0,149.8 119.5,149.8 120.0,149.8 120.5,149.7 121.0,149.7 121.5,149.7 122.0,149.7 122.5,149.6 123.0,149.6 123.5,149.6 124.0,149.6 124.5,149.5 125.0,149.5 125.5,149.5 126.0,149.4 126.5,149.4 127.0,149.4 127.5,149.4 128.0,149.3 128.5,149.3 129.0,149.3 129.5,149.3 130.0,149.2 130.5,149.2 131.0,149.2 131.5,149.2 132.0,149.2 132.5,149.2 133.0,149.2 133.5,149.2 134.0,149.2 134.5,149.1 135.0,149.1 135.5,149.1 136.0,149.1 136.5,149.1 137.0,149.1 137.5,149.1 138.0,149.1 138.5,149.0 139.0,149.0 139.5,149.0 140.0,149.0 140.5,149.0 141.0,148.9 141.5,148.9 142.0,148.9 142.5,148.8 143.0,148.8 143.5,148.7 144.0,148.7 144.5,148.7 145.0,148.6 145.5,148.6 146.0,148.6 146.5,148.5 147.0,148.5 147.5,148.4 148.0,148.4 148.5,148.4 149.0,148.3 149.5,148.3 150.0,148.2 150.5,148.3 151.0,148.3 151.5,148.3 152.0,148.3 152.5,148.3 153.0,148.3 153.5,148.3 154.0,148.3 154.5,148.4 155.0,148.4 155.5,148.4 156.0,148.4 156.5,148.4 157.0,148.4 157.5,148.4 158.0,148.4 158.5,148.5 159.0,148.5 159.5,148.5 160.0,148.5 160.5,148.5 161.0,148.5 161.5,148.5 162.0,148.5 162.5,148.5 163.0,148.5 163.5,148.5 164.0,148.5 164.5,148.5 165.0,148.5 165.5,148.5 166.0,148.5 166.5,148.5 167.0,148.5 167.5,148.5 168.0,148.5 168.5,148.5 169.0,148.5 169.5,148.5 170.0,148.6 170.5,148.6 171.0,148.6 171.5,148.6 172.0,148.6 172.5,148.6 173.0,148.6 173.5,148.6 174.0,148.6 174.5,148.6 175.0,148.7 175.5,148.7 176.0,148.7 176.5,148.7 177.0,148.7 177.5,148.7 178.0,148.7 178.5,148.7 179.0,148.7 179.5,148.7 180.0,148.8 180.5,148.8 181.0,148.8 181.5,148.8 182.0,148.8 182.5,148.8 183.0,148.8 183.5,148.8 184.0,148.8 184.5,148.9 185.0,148.9 185.5,148.9 186.0,148.9 186.5,148.9 187.0,148.9 187.5,148.9 188.0,148.9 188.5,149.0 189.0,149.0 189.5,149.0 190.0,149.0 190.5,149.0 191.0,149.1 191.5,149.1 192.0,149.1 192.5,149.2 193.0,149.2 193.5,149.2 194.0,149.3 194.5,149.3 195.0,149.3 195.5,149.4 196.0,149.4 196.5,149.4 197.0,149.5 197.5,149.5 198.0,149.5 198.5,149.6 199.0,149.6 199.5,149.6 200.0,149.7 200.5,149.7 201.0,149.7 201.5,149.7 202.0,149.7 202.5,149.7 203.0,149.7 203.5,149.7 204.0,149.7 204.5,149.7 205.0,149.7 205.5,149.7 206.0,149.7 206.5,149.7 207.0,149.7 207.5,149.7 208.0,149.7 208.5,149.7 209.0,149.7 209.5,149.7 210.0,149.7 210.5,149.7 211.0,149.7 211.5,149.7 212.0,149.7 212.5,149.7 213.0,149.7 213.5,149.7 214.0,149.7 214.5,149.7 215.0,149.7 215.5,149.7 216.0,149.7 216.5,149.7 217.0,149.7 217.5,149.7 218.0,149.7 218.5,149.7 219.0,149.7 219.5,149.7 220.0,149.7 220.5,149.6 221.0,149.6 221.5,149.6 222.0,149.6 222.5,149.6 223.0,149.5 223.5,149.5 224.0,149.5 224.5,149.5 225.0,149.4 225.5,149.4 226.0,149.4 226.5,149.4 227.0,149.4 227.5,149.3 228.0,149.3 228.5,149.3 229.0,149.3 229.5,149.3 230.0,149.2 230.5,149.2 231.0,149.2 231.5,149.2 232.0,149.2 232.5,149.2 233.0,149.2 233.5,149.1 234.0,149.1 234.5,149.1 235.0,149.1 235.5,149.1 236.0,149.1 236.5,149.1 237.0,149.0 237.5,149.0 238.0,149.0 238.5,149.0 239.0,149.0 239.5,149.0 240.0,148.9 240.5,148.9 241.0,148.9 241.5,148.9 242.0,148.9 242.5,148.9 243.0,148.9 243.5,148.9 244.0,148.9 244.5,148.9 245.0,148.9 245.5,148.9 246.0,148.9 246.5,148.9 247.0,148.9 247.5,148.9 248.0,148.9 248.5,148.9 249.0,148.9 249.5,148.9 250.0,148.9 250.5,148.9 251.0,148.9 251.5,148.9 252.0,148.9 252.5,148.9 253.0,148.9 253.5,148.9 254.0,148.9 254.5,148.9 255.0,148.9 255.5,148.9 256.0,148.9 256.5,148.9 257.0,148.9 257.5,148.9 258.0,148.9 258.5,148.9 259.0,148.9 259.5,148.9 260.0,148.9 260.5,148.9 261.0,148.9 261.5,148.9 262.0,148.9 262.5,148.9 263.0,148.9 263.5,148.9 264.0,148.9 264.5,148.9 265.0,148.9 265.5,148.9 266.0,148.9 266.5,148.9 267.0,148.9 267.5,148.9 268.0,148.9 268.5,148.9 269.0,148.9 269.5,148.9 270.0,148.9 270.5,148.9 271.0,148.9 271.5,148.9 272.0,148.9 272.5,148.9 273.0,148.9 273.5,148.9 274.0,148.9 274.5,148.9 275.0,148.9 275.5,148.9 276.0,148.9 276.5,148.9 277.0,148.9 277.5,148.9 278.0,148.9 278.5,148.9 279.0,148.9 279.5,148.9 280.0,148.9 280.5,148.9 281.0,148.9 281.5,148.9 282.0,148.9 282.5,148.9 283.0,148.9 283.5,148.9 284.0,148.9 284.5,148.9 285.0,148.9 285.5,148.9 286.0,148.9 286.5,148.9 287.0,148.9 287.5,148.9 288.0,148.9 288.5,148.9 289.0,148.9 289.5,148.9 290.0,148.9 290.5,149.0 291.0,149.0 291.5,149.0 292.0,149.0 292.5,149.0 293.0,149.0 293.5,149.0 294.0,149.0 294.5,149.0 295.0,149.0 295.5,149.0 296.0,149.0 296.5,149.0 297.0,149.0 297.5,149.0 298.0,149.0 298.5,149.0 299.0,149.0 299.5,149.0 300.0,149.0 300.5,149.0 301.0,148.9 301.5,148.9 302.0,148.9 302.5,148.9 303.0,148.8 303.5,148.8 304.0,148.8 304.5,148.8 305.0,148.8 305.5,148.7 306.0,148.7 306.5,148.7 307.0,148.7 307.5,148.6 308.0,148.6 308.5,148.6 309.0,148.6 309.5,148.5 310.0,148.5 310.5,148.5 311.0,148.4 311.5,148.4 312.0,148.3 312.5,148.3 313.0,148.3 313.5,148.2 314.0,148.2 314.5,148.2 315.0,148.1 315.5,148.1 316.0,148.0 316.5,148.0" fill="none" stroke="#f0b040" stroke-width="2.2" stroke-linejoin="round"/>
<polyline points="317.0,147.8 318.1,146.4 319.7,149.7 321.0,145.8 322.6,149.0 324.0,146.8 325.3,150.4 326.6,147.1 328.2,148.9 329.3,146.5 330.9,146.0 331.9,150.2 333.7,146.9 334.9,149.1 336.4,149.5 337.6,147.4 339.1,145.8 340.4,149.3 342.0,146.0 343.3,150.2 344.5,145.8 346.0,149.2 347.2,147.0 348.7,149.6 349.6,147.0 350.9,150.4 352.5,147.1 353.8,148.0" fill="none" stroke="#f0b040" stroke-width="1.6" stroke-linejoin="round"/>
<polyline points="52.0,137.0 52.2,137.2 52.4,137.4 52.5,137.6 52.5,137.9 52.5,138.2 52.5,138.4 52.6,138.7 52.6,139.0 52.6,139.2 52.7,139.5 52.7,139.8 52.7,140.0 52.7,140.3 52.8,140.6 53.0,140.3 53.2,140.1 53.3,139.9 53.5,140.1 53.7,140.2 53.9,140.4 54.1,140.6 54.3,140.8 54.5,141.0 54.7,140.8 54.9,140.6 55.1,140.4 55.3,140.3 55.5,140.1 55.7,139.9 55.9,140.1 56.1,140.3 56.2,140.6 56.4,140.8 56.6,141.0 56.8,141.2" fill="none" stroke="#a6a6aa" stroke-width="1.6" stroke-linejoin="round"/>
<polyline points="58.5,140.6 58.7,140.5 59.0,140.4 59.3,140.3 59.5,140.1" fill="none" stroke="#a6a6aa" stroke-width="1.6" stroke-linejoin="round"/>
<polyline points="61.1,137.7 61.3,137.5 61.5,137.3 61.6,137.5 61.8,137.7 61.9,137.9 62.1,138.2 62.2,138.4 62.4,138.6 62.5,138.8 62.7,139.0 62.8,138.8 63.0,138.6 63.2,138.4 63.3,138.1 63.5,137.9 63.6,137.7 63.8,137.5 64.0,137.2 64.1,137.0 64.4,137.0 64.7,137.0 64.9,137.0 65.2,137.0 65.4,137.2 65.6,137.5 65.7,137.7 65.9,137.9 66.1,138.1 66.2,138.3 66.4,138.5 66.7,138.7 67.0,138.8 67.3,138.9 67.4,138.7 67.6,138.5 67.7,138.3 67.9,138.0 68.1,137.8 68.2,137.6 68.4,137.4 68.5,137.2 68.7,137.4 68.8,137.6 68.9,137.8 69.0,138.1 69.2,138.3 69.3,138.5 69.4,138.7 69.5,139.0 69.7,139.2 69.8,139.4 69.9,139.6" fill="none" stroke="#a6a6aa" stroke-width="1.6" stroke-linejoin="round"/>
<path d="M72.0,138.1 L72.5,137.7 L73.0,137.4 L73.5,137.4 L74.0,137.5 L74.5,136.8 L75.0,137.2 L75.5,137.1 L76.0,137.1 L76.5,137.0 L77.0,136.9 L77.5,137.9 L78.0,138.2 L78.5,138.4 L79.0,138.8 L79.5,139.6 L80.0,139.0 L80.5,139.0 L81.0,138.7 L81.5,138.8 L82.0,138.4 L82.5,138.6 L83.0,139.5 L83.5,139.8 L84.0,139.8 L84.5,140.5 L85.0,140.3 L85.5,140.3 L86.0,141.0 L86.5,139.6 L87.0,139.0 L87.5,138.9 L88.0,138.9 L88.5,138.3 L89.0,139.0 L89.5,139.1 L90.0,138.5 L90.5,138.8 L91.0,138.9 L91.5,139.1 L92.0,139.4 L92.5,138.9 L93.0,138.7 L93.5,138.8 L94.0,139.7 L94.5,139.3 L95.0,139.4 L95.5,139.6 L96.0,139.5 L96.5,139.5 L97.0,139.6 L97.5,139.0 L98.0,139.5 L98.5,139.8 L99.0,139.2 L99.5,139.2 L100.0,140.1 L100.5,139.6 L101.0,139.5 L101.5,138.5 L102.0,138.8 L102.5,138.1 L103.0,138.1 L103.5,138.4 L104.0,137.8 L104.5,138.1 L105.0,137.6 L105.5,137.8 L106.0,138.0 L106.5,137.7 L107.0,138.2 L107.5,138.3 L108.0,138.2 L108.5,138.6 L109.0,139.2 L109.5,139.1 L110.0,139.8 L110.5,139.2 L111.0,138.9 L111.5,138.9 L112.0,138.6 L112.5,139.2 L113.0,139.3 L113.5,139.2 L114.0,139.3 L114.5,139.5 L115.0,139.6 L115.5,139.9 L116.0,140.6 L116.5,140.7 L117.0,141.2 L117.5,141.5 L118.0,141.7 L118.5,141.1 L119.0,141.5 L119.5,140.8 L120.0,141.1 L120.5,141.5 L121.0,141.2 L121.5,141.1 L122.0,141.1 L122.5,141.4 L123.0,140.8 L123.5,141.4 L124.0,141.4 L124.5,140.5 L125.0,140.7 L125.5,140.4 L126.0,139.3 L126.5,139.4 L127.0,138.7 L127.5,139.0 L128.0,139.1 L128.5,139.0 L129.0,138.1 L129.5,139.1 L130.0,139.2 L130.5,138.2 L131.0,139.2 L131.5,138.1 L132.0,137.7 L132.5,138.0 L133.0,139.2 L133.5,139.3 L134.0,139.2 L134.5,139.6 L135.0,139.1 L135.5,139.4 L136.0,139.2 L136.5,139.7 L137.0,139.5 L137.5,139.7 L138.0,139.3 L138.5,139.0 L139.0,139.0 L139.5,139.0 L140.0,138.5 L140.5,138.7 L141.0,138.5 L141.5,138.4 L142.0,138.4 L142.5,138.6 L143.0,138.5 L143.5,138.9 L144.0,139.0 L144.5,139.3 L145.0,139.5 L145.5,139.8 L146.0,139.1 L146.5,139.2 L147.0,139.4 L147.5,138.8 L148.0,139.0 L148.5,138.6 L149.0,138.1 L149.5,138.2 L150.0,137.9 L150.5,138.3 L151.0,138.6 L151.5,138.9 L152.0,138.9 L152.5,138.9 L153.0,138.9 L153.5,138.4 L154.0,138.3 L154.5,137.8 L155.0,138.0 L155.5,137.6 L156.0,137.8 L156.5,137.6 L157.0,138.9 L157.5,138.5 L158.0,137.5 L158.5,137.1 L159.0,137.1 L159.5,136.4 L160.0,136.9 L160.5,137.2 L161.0,135.9 L161.5,136.2 L162.0,136.6 L162.5,137.1 L163.0,137.3 L163.5,137.6 L164.0,137.9 L164.5,138.4 L165.0,138.0 L165.5,138.0 L166.0,137.8 L166.5,138.2 L167.0,137.1 L167.5,137.9 L168.0,137.1 L168.5,137.1 L169.0,136.9 L169.5,137.2 L170.0,137.1 L170.5,136.5 L171.0,136.2 L171.5,135.6 L172.0,135.5 L172.5,135.0 L173.0,135.5 L173.5,135.3 L174.0,135.0 L174.5,135.7 L175.0,135.9 L175.5,135.3 L176.0,135.9 L176.5,135.7 L177.0,136.0 L177.5,135.9 L178.0,135.7 L178.5,135.5 L179.0,136.1 L179.5,135.5 L180.0,135.7 L180.5,136.0 L181.0,135.3 L181.5,136.1 L182.0,135.9 L182.5,136.0 L183.0,136.3 L183.5,136.2 L184.0,136.3 L184.5,136.1 L185.0,135.9 L185.5,135.9 L186.0,135.7 L186.5,135.3 L187.0,135.8 L187.5,136.1 L188.0,135.3 L188.5,135.8 L189.0,136.3 L189.5,135.6 L190.0,136.7 L190.5,136.7 L191.0,137.0 L191.5,137.3 L192.0,137.5 L192.5,136.5 L193.0,136.8 L193.5,136.4 L194.0,136.3 L194.5,135.4 L195.0,135.9 L195.5,136.7 L196.0,137.2 L196.5,137.7 L197.0,137.1 L197.5,137.8 L198.0,137.2 L198.5,137.1 L199.0,136.9 L199.5,137.0 L200.0,137.2 L200.5,136.7 L201.0,137.2 L201.5,137.2 L202.0,137.0 L202.5,137.2 L203.0,136.4 L203.5,136.3 L204.0,136.2 L204.5,135.9 L205.0,135.8 L205.5,136.0 L206.0,136.5 L206.5,136.4 L207.0,136.5 L207.5,136.5 L208.0,137.0 L208.5,137.2 L209.0,136.9 L209.5,137.4 L210.0,136.7 L210.5,136.7 L211.0,136.2 L211.5,136.2 L212.0,137.1 L212.5,135.7 L213.0,136.2 L213.5,135.7 L214.0,135.5 L214.5,134.6 L215.0,135.7 L215.5,135.7 L216.0,136.4 L216.5,136.9 L217.0,137.4 L217.5,138.0 L218.0,138.0 L218.5,136.9 L219.0,137.3 L219.5,137.1 L220.0,137.1 L220.5,136.3 L221.0,136.1 L221.5,136.3 L222.0,135.8 L222.5,136.2 L223.0,135.7 L223.5,135.7 L224.0,135.4 L224.5,135.6 L225.0,136.2 L225.5,136.3 L226.0,136.7 L226.5,137.4 L227.0,137.8 L227.5,137.9 L228.0,137.5 L228.5,137.4 L229.0,137.4 L229.5,136.9 L230.0,136.4 L230.5,136.6 L231.0,136.0 L231.5,135.9 L232.0,135.6 L232.5,135.5 L233.0,135.3 L233.5,136.0 L234.0,135.0 L234.5,135.5 L235.0,135.2 L235.5,136.1 L236.0,135.3 L236.5,135.2 L237.0,135.3 L237.5,135.8 L238.0,136.1 L238.5,136.2 L239.0,136.6 L239.5,136.5 L240.0,136.6 L240.5,136.3 L241.0,135.5 L241.5,136.1 L242.0,135.8 L242.5,136.7 L243.0,137.2 L243.5,137.6 L244.0,138.1 L244.5,139.2 L245.0,138.8 L245.5,139.2 L246.0,139.1 L246.5,139.4 L247.0,139.4 L247.5,138.4 L248.0,138.2 L248.5,137.8 L249.0,137.0 L249.5,135.8 L250.0,136.4 L250.5,136.2 L251.0,136.2 L251.5,135.8 L252.0,136.1 L252.5,135.8 L253.0,134.7 L253.5,134.8 L254.0,134.2 L254.5,133.8 L255.0,134.4 L255.5,134.6 L256.0,134.3 L256.5,133.6 L257.0,133.5 L257.5,133.7 L258.0,133.1 L258.5,132.8 L259.0,132.3 L259.5,132.3 L260.0,132.4 L260.5,132.7 L261.0,132.8 L261.5,133.5 L262.0,133.3 L262.5,132.9 L263.0,132.6 L263.5,131.2 L264.0,129.6 L264.5,129.3 L265.0,130.0 L265.5,129.6 L266.0,129.3 L266.5,128.9 L267.0,129.2 L267.5,128.8 L268.0,129.0 L268.5,129.1 L269.0,129.2 L269.5,129.0 L270.0,129.0 L270.5,130.1 L271.0,130.4 L271.5,131.3 L272.0,132.1 L272.5,131.8 L273.0,131.5 L273.5,131.9 L274.0,131.1 L274.5,131.2 L275.0,130.6 L275.5,129.9 L276.0,130.0 L276.5,130.4 L277.0,130.0 L277.5,129.5 L278.0,129.3 L278.5,129.5 L279.0,129.1 L279.5,128.8 L280.0,128.8 L280.5,128.2 L281.0,127.6 L281.5,127.2 L282.0,126.4 L282.5,126.8 L283.0,125.3 L283.5,124.8 L284.0,123.4 L284.5,122.5 L285.0,121.3 L285.5,120.0 L286.0,118.1 L286.5,117.1 L287.0,117.6 L287.5,119.2 L288.0,119.7 L288.5,121.0 L289.0,121.9 L289.5,122.9 L290.0,122.8 L290.5,122.8 L291.0,123.6 L291.5,123.5 L292.0,123.6 L292.5,124.4 L293.0,123.1 L293.5,123.5 L294.0,123.1 L294.5,123.9 L295.0,123.3 L295.5,123.8 L296.0,124.0 L296.5,123.9 L297.0,124.1 L297.5,123.4 L298.0,122.8 L298.5,122.1 L299.0,121.9 L299.5,121.1 L300.0,121.2 L300.5,121.6 L301.0,122.6 L301.5,121.7 L302.0,121.8 L302.5,120.9 L303.0,120.1 L303.5,119.5 L304.0,118.1 L304.5,117.5 L305.0,117.3 L305.5,117.1 L306.0,116.0 L306.5,115.4 L307.0,115.3 L307.5,114.3 L308.0,114.9 L308.5,115.6 L309.0,116.8 L309.5,116.6 L310.0,117.3 L310.5,118.0 L311.0,117.5 L311.5,117.0 L312.0,117.0 L312.5,117.8 L313.0,118.0 L313.5,118.1 L314.0,118.2 L314.5,118.2 L315.0,118.4 L315.5,119.1 L316.0,119.4 L316.5,119.3 L317.0,119.9 L317.5,119.3 L318.0,119.3 L318.5,118.4 L319.0,119.0 L319.5,119.0 L320.0,118.6 L320.5,118.2 L321.0,118.2 L321.5,118.0 L322.0,117.9 L322.5,117.6 L323.0,117.5 L323.5,116.9 L324.0,116.8 L324.5,116.4 L325.0,116.5 L325.5,116.2 L326.0,115.5 L326.5,114.9 L327.0,114.6 L327.5,113.8 L328.0,114.4 L328.5,113.3 L329.0,114.7 L329.5,115.2 L330.0,115.9 L330.5,115.8 L331.0,117.1 L331.5,116.9 L332.0,116.9 L332.5,117.1 L333.0,116.7 L333.5,116.5 L334.0,116.6 L334.5,116.2 L335.0,116.3 L335.5,116.1 L336.0,116.0 L336.5,116.1 L337.0,115.9 L337.5,116.0 L338.0,115.6 L338.5,115.5 L339.0,115.6 L339.5,115.3 L340.0,116.3 L340.5,116.6 L341.0,116.2 L341.5,117.3 L342.0,117.6 L342.5,117.5 L343.0,117.5 L343.5,116.4 L344.0,116.1 L344.5,115.5 L345.0,115.6 L345.5,115.8 L346.0,115.7 L346.5,115.7 L347.0,115.4 L347.5,116.0 L348.0,116.0 L348.5,116.5 L349.0,117.3 L349.5,117.1 L350.0,117.0 L350.5,117.1 L351.0,117.1 L351.5,117.6 L352.0,118.5 L352.5,117.7 L353.0,117.7 L353.5,117.4 L354.0,117.6 L354.5,118.1 L355.0,118.4 L355.5,118.4 L356.0,118.6 L356.5,119.3 L357.0,120.1 L357.5,120.0 L358.0,119.4 L358.0,123.7 L357.5,124.0 L357.0,124.3 L356.5,124.2 L356.0,124.3 L355.5,124.1 L355.0,123.7 L354.5,123.6 L354.0,124.2 L353.5,124.1 L353.0,123.6 L352.5,123.8 L352.0,124.2 L351.5,124.3 L351.0,123.7 L350.5,124.0 L350.0,124.0 L349.5,124.7 L349.0,124.1 L348.5,124.8 L348.0,123.7 L347.5,123.8 L347.0,123.9 L346.5,123.5 L346.0,122.4 L345.5,122.9 L345.0,123.0 L344.5,122.3 L344.0,122.9 L343.5,122.7 L343.0,123.0 L342.5,123.4 L342.0,123.9 L341.5,123.4 L341.0,124.2 L340.5,124.4 L340.0,124.4 L339.5,124.4 L339.0,123.3 L338.5,123.2 L338.0,123.0 L337.5,122.7 L337.0,123.5 L336.5,123.3 L336.0,122.9 L335.5,123.4 L335.0,123.7 L334.5,123.5 L334.0,123.2 L333.5,123.5 L333.0,122.4 L332.5,122.4 L332.0,121.7 L331.5,121.8 L331.0,121.6 L330.5,121.5 L330.0,122.0 L329.5,121.8 L329.0,121.7 L328.5,120.7 L328.0,120.8 L327.5,121.6 L327.0,122.1 L326.5,122.6 L326.0,122.8 L325.5,122.9 L325.0,123.8 L324.5,122.9 L324.0,122.8 L323.5,123.1 L323.0,122.6 L322.5,122.5 L322.0,122.1 L321.5,122.0 L321.0,122.0 L320.5,121.7 L320.0,122.3 L319.5,121.2 L319.0,121.8 L318.5,122.4 L318.0,122.6 L317.5,122.7 L317.0,123.2 L316.5,123.5 L316.0,123.6 L315.5,123.3 L315.0,122.9 L314.5,123.0 L314.0,123.3 L313.5,122.3 L313.0,123.0 L312.5,122.1 L312.0,121.3 L311.5,121.8 L311.0,122.0 L310.5,121.8 L310.0,122.4 L309.5,122.7 L309.0,122.4 L308.5,121.5 L308.0,121.1 L307.5,120.9 L307.0,121.4 L306.5,122.0 L306.0,122.6 L305.5,124.3 L305.0,124.6 L304.5,124.7 L304.0,125.1 L303.5,125.1 L303.0,125.1 L302.5,125.5 L302.0,125.5 L301.5,126.2 L301.0,126.7 L300.5,127.1 L300.0,126.9 L299.5,127.7 L299.0,127.1 L298.5,126.7 L298.0,127.2 L297.5,126.8 L297.0,126.2 L296.5,126.6 L296.0,127.3 L295.5,126.3 L295.0,126.6 L294.5,127.3 L294.0,127.5 L293.5,128.5 L293.0,128.4 L292.5,128.6 L292.0,129.1 L291.5,129.1 L291.0,128.5 L290.5,128.2 L290.0,128.3 L289.5,127.3 L289.0,127.4 L288.5,127.1 L288.0,126.5 L287.5,125.3 L287.0,123.8 L286.5,124.3 L286.0,125.7 L285.5,127.4 L285.0,129.3 L284.5,130.5 L284.0,130.6 L283.5,131.6 L283.0,131.8 L282.5,131.5 L282.0,132.0 L281.5,132.6 L281.0,133.3 L280.5,133.9 L280.0,134.3 L279.5,133.4 L279.0,134.0 L278.5,134.6 L278.0,134.4 L277.5,134.1 L277.0,134.4 L276.5,134.8 L276.0,135.6 L275.5,135.3 L275.0,136.2 L274.5,135.7 L274.0,136.8 L273.5,137.2 L273.0,136.8 L272.5,137.6 L272.0,137.9 L271.5,136.9 L271.0,137.1 L270.5,137.7 L270.0,137.5 L269.5,137.2 L269.0,136.4 L268.5,135.4 L268.0,134.7 L267.5,133.3 L267.0,134.2 L266.5,135.0 L266.0,135.8 L265.5,137.0 L265.0,137.9 L264.5,139.3 L264.0,139.9 L263.5,140.5 L263.0,140.6 L262.5,141.5 L262.0,141.8 L261.5,141.0 L261.0,140.3 L260.5,139.7 L260.0,140.2 L259.5,139.1 L259.0,139.0 L258.5,139.5 L258.0,139.6 L257.5,139.6 L257.0,139.8 L256.5,140.6 L256.0,140.6 L255.5,141.0 L255.0,140.6 L254.5,141.2 L254.0,141.6 L253.5,142.2 L253.0,142.8 L252.5,143.3 L252.0,143.4 L251.5,143.2 L251.0,143.7 L250.5,142.7 L250.0,143.1 L249.5,142.7 L249.0,142.6 L248.5,142.6 L248.0,142.5 L247.5,143.0 L247.0,142.7 L246.5,142.9 L246.0,142.8 L245.5,143.3 L245.0,142.5 L244.5,143.4 L244.0,143.3 L243.5,142.7 L243.0,142.4 L242.5,142.4 L242.0,142.7 L241.5,142.6 L241.0,142.5 L240.5,143.3 L240.0,142.4 L239.5,143.2 L239.0,143.2 L238.5,142.3 L238.0,142.1 L237.5,142.2 L237.0,142.3 L236.5,141.6 L236.0,142.2 L235.5,141.9 L235.0,142.3 L234.5,142.1 L234.0,142.8 L233.5,142.4 L233.0,142.5 L232.5,143.3 L232.0,142.9 L231.5,143.1 L231.0,142.9 L230.5,143.4 L230.0,142.9 L229.5,143.2 L229.0,142.5 L228.5,143.2 L228.0,142.8 L227.5,142.7 L227.0,142.5 L226.5,143.6 L226.0,143.4 L225.5,144.5 L225.0,143.9 L224.5,145.2 L224.0,144.7 L223.5,144.9 L223.0,144.8 L222.5,145.4 L222.0,145.1 L221.5,144.6 L221.0,144.7 L220.5,144.6 L220.0,143.5 L219.5,144.0 L219.0,143.9 L218.5,143.4 L218.0,142.6 L217.5,142.9 L217.0,142.0 L216.5,143.2 L216.0,143.6 L215.5,143.6 L215.0,144.4 L214.5,145.4 L214.0,145.6 L213.5,144.5 L213.0,145.1 L212.5,145.0 L212.0,145.0 L211.5,144.8 L211.0,144.6 L210.5,144.7 L210.0,145.2 L209.5,144.7 L209.0,144.6 L208.5,144.3 L208.0,144.2 L207.5,144.5 L207.0,144.0 L206.5,144.0 L206.0,143.5 L205.5,143.9 L205.0,143.4 L204.5,143.6 L204.0,143.4 L203.5,143.5 L203.0,144.1 L202.5,144.3 L202.0,144.9 L201.5,144.1 L201.0,143.6 L200.5,143.3 L200.0,142.7 L199.5,142.1 L199.0,142.5 L198.5,142.5 L198.0,142.6 L197.5,142.8 L197.0,142.7 L196.5,142.8 L196.0,143.5 L195.5,144.0 L195.0,144.2 L194.5,144.5 L194.0,144.7 L193.5,144.1 L193.0,143.7 L192.5,143.3 L192.0,143.6 L191.5,143.0 L191.0,143.6 L190.5,144.3 L190.0,143.6 L189.5,142.9 L189.0,144.2 L188.5,143.6 L188.0,143.7 L187.5,143.6 L187.0,143.9 L186.5,143.9 L186.0,144.0 L185.5,144.0 L185.0,144.8 L184.5,144.9 L184.0,144.5 L183.5,144.1 L183.0,143.4 L182.5,142.6 L182.0,142.4 L181.5,142.7 L181.0,142.7 L180.5,142.7 L180.0,142.4 L179.5,143.0 L179.0,143.4 L178.5,142.7 L178.0,143.8 L177.5,143.6 L177.0,143.3 L176.5,143.4 L176.0,143.7 L175.5,143.3 L175.0,143.8 L174.5,143.8 L174.0,143.9 L173.5,144.1 L173.0,144.0 L172.5,144.4 L172.0,143.9 L171.5,143.7 L171.0,143.7 L170.5,143.2 L170.0,143.5 L169.5,143.3 L169.0,143.8 L168.5,143.9 L168.0,144.6 L167.5,144.6 L167.0,145.1 L166.5,144.3 L166.0,144.2 L165.5,143.4 L165.0,143.1 L164.5,142.8 L164.0,143.6 L163.5,142.8 L163.0,143.0 L162.5,143.0 L162.0,143.8 L161.5,143.7 L161.0,143.2 L160.5,143.3 L160.0,143.6 L159.5,142.7 L159.0,143.1 L158.5,143.4 L158.0,143.2 L157.5,143.4 L157.0,144.0 L156.5,143.4 L156.0,144.1 L155.5,144.3 L155.0,144.0 L154.5,144.4 L154.0,144.6 L153.5,144.1 L153.0,143.9 L152.5,144.3 L152.0,143.3 L151.5,144.9 L151.0,144.2 L150.5,144.6 L150.0,144.7 L149.5,145.0 L149.0,144.7 L148.5,145.0 L148.0,145.2 L147.5,145.3 L147.0,145.3 L146.5,145.0 L146.0,145.2 L145.5,144.6 L145.0,144.9 L144.5,144.8 L144.0,144.0 L143.5,145.0 L143.0,144.6 L142.5,144.7 L142.0,144.5 L141.5,145.0 L141.0,144.9 L140.5,145.1 L140.0,145.3 L139.5,145.4 L139.0,145.7 L138.5,145.2 L138.0,145.3 L137.5,145.5 L137.0,145.0 L136.5,145.5 L136.0,145.1 L135.5,145.4 L135.0,146.4 L134.5,145.9 L134.0,146.1 L133.5,145.5 L133.0,145.1 L132.5,146.0 L132.0,145.8 L131.5,145.7 L131.0,145.3 L130.5,145.4 L130.0,144.8 L129.5,144.9 L129.0,145.5 L128.5,145.7 L128.0,145.8 L127.5,146.5 L127.0,146.9 L126.5,147.1 L126.0,146.7 L125.5,147.0 L125.0,146.4 L124.5,146.2 L124.0,146.2 L123.5,146.4 L123.0,146.2 L122.5,146.3 L122.0,146.4 L121.5,146.9 L121.0,147.0 L120.5,146.5 L120.0,147.5 L119.5,146.8 L119.0,146.9 L118.5,147.3 L118.0,147.6 L117.5,146.9 L117.0,147.4 L116.5,146.3 L116.0,145.8 L115.5,145.2 L115.0,145.0 L114.5,144.3 L114.0,145.2 L113.5,145.9 L113.0,146.0 L112.5,147.1 L112.0,147.1 L111.5,147.0 L111.0,146.4 L110.5,146.0 L110.0,145.9 L109.5,145.1 L109.0,145.5 L108.5,145.5 L108.0,146.0 L107.5,146.0 L107.0,146.0 L106.5,146.3 L106.0,145.8 L105.5,146.7 L105.0,146.4 L104.5,146.7 L104.0,146.2 L103.5,145.7 L103.0,145.6 L102.5,146.1 L102.0,146.1 L101.5,146.1 L101.0,146.8 L100.5,146.9 L100.0,147.4 L99.5,148.4 L99.0,147.4 L98.5,146.5 L98.0,146.1 L97.5,146.0 L97.0,145.4 L96.5,146.4 L96.0,146.5 L95.5,146.4 L95.0,147.3 L94.5,148.0 L94.0,147.1 L93.5,147.3 L93.0,147.4 L92.5,147.5 L92.0,146.6 L91.5,147.0 L91.0,147.0 L90.5,147.0 L90.0,147.2 L89.5,147.5 L89.0,146.8 L88.5,146.5 L88.0,145.5 L87.5,145.7 L87.0,145.0 L86.5,145.2 L86.0,145.6 L85.5,145.4 L85.0,145.0 L84.5,145.2 L84.0,145.3 L83.5,144.7 L83.0,145.4 L82.5,144.8 L82.0,145.2 L81.5,144.5 L81.0,144.8 L80.5,145.3 L80.0,145.2 L79.5,144.8 L79.0,145.3 L78.5,145.7 L78.0,145.1 L77.5,145.9 L77.0,145.6 L76.5,145.0 L76.0,144.9 L75.5,144.9 L75.0,144.8 L74.5,144.4 L74.0,145.1 L73.5,144.9 L73.0,145.4 L72.5,146.3 L72.0,146.2 Z" fill="#a6a6aa"/>
<polyline points="72.0,141.7 72.5,141.7 73.0,141.7 73.5,141.7 74.0,141.7 74.5,141.7 75.0,141.7 75.5,141.8 76.0,141.8 76.5,141.8 77.0,141.8 77.5,141.8 78.0,141.8 78.5,141.9 79.0,141.9 79.5,141.9 80.0,141.9 80.5,142.0 81.0,142.2 81.5,142.3 82.0,142.4 82.5,142.6 83.0,142.7 83.5,142.8 84.0,143.0 84.5,143.1 85.0,143.2 85.5,143.4 86.0,143.5 86.5,143.4 87.0,143.2 87.5,143.1 88.0,142.9 88.5,142.8 89.0,142.7 89.5,142.5 90.0,142.4 90.5,142.5 91.0,142.5 91.5,142.6 92.0,142.6 92.5,142.7 93.0,142.8 93.5,142.8 94.0,142.9 94.5,142.9 95.0,143.0 95.5,143.1 96.0,143.2 96.5,143.3 97.0,143.4 97.5,143.5 98.0,143.6 98.5,143.7 99.0,143.8 99.5,143.9 100.0,144.0 100.5,143.7 101.0,143.4 101.5,143.1 102.0,142.8 102.5,142.5 103.0,142.2 103.5,142.3 104.0,142.3 104.5,142.3 105.0,142.3 105.5,142.4 106.0,142.4 106.5,142.4 107.0,142.4 107.5,142.5 108.0,142.5 108.5,142.5 109.0,142.5 109.5,142.6 110.0,142.6 110.5,142.6 111.0,142.6 111.5,142.6 112.0,142.6 112.5,142.7 113.0,142.7 113.5,142.7 114.0,142.7 114.5,142.7 115.0,142.8 115.5,142.8 116.0,142.9 116.5,143.0 117.0,143.1 117.5,143.1 118.0,143.2 118.5,143.3 119.0,143.4 119.5,143.4 120.0,143.5 120.5,143.4 121.0,143.4 121.5,143.3 122.0,143.3 122.5,143.2 123.0,143.2 123.5,143.2 124.0,143.1 124.5,143.1 125.0,143.0 125.5,142.9 126.0,142.9 126.5,142.8 127.0,142.8 127.5,142.8 128.0,142.7 128.5,142.7 129.0,142.6 129.5,142.6 130.0,142.5 130.5,142.5 131.0,142.4 131.5,142.4 132.0,142.4 132.5,142.4 133.0,142.3 133.5,142.3 134.0,142.3 134.5,142.3 135.0,142.2 135.5,142.2 136.0,142.2 136.5,142.2 137.0,142.2 137.5,142.1 138.0,142.1 138.5,142.1 139.0,142.1 139.5,142.0 140.0,142.0 140.5,142.0 141.0,141.9 141.5,141.9 142.0,141.9 142.5,141.9 143.0,141.8 143.5,141.8 144.0,141.8 144.5,141.8 145.0,141.8 145.5,141.7 146.0,141.7 146.5,141.7 147.0,141.7 147.5,141.6 148.0,141.6 148.5,141.6 149.0,141.6 149.5,141.5 150.0,141.5 150.5,141.4 151.0,141.4 151.5,141.3 152.0,141.3 152.5,141.2 153.0,141.2 153.5,141.2 154.0,141.1 154.5,141.1 155.0,141.0 155.5,140.9 156.0,140.9 156.5,140.8 157.0,140.8 157.5,140.8 158.0,140.7 158.5,140.7 159.0,140.6 159.5,140.6 160.0,140.5 160.5,140.5 161.0,140.5 161.5,140.4 162.0,140.4 162.5,140.4 163.0,140.4 163.5,140.4 164.0,140.4 164.5,140.3 165.0,140.3 165.5,140.3 166.0,140.3 166.5,140.3 167.0,140.3 167.5,140.2 168.0,140.2 168.5,140.2 169.0,140.2 169.5,140.2 170.0,140.2 170.5,140.1 171.0,140.1 171.5,140.1 172.0,140.1 172.5,140.1 173.0,140.1 173.5,140.1 174.0,140.1 174.5,140.1 175.0,140.1 175.5,140.1 176.0,140.1 176.5,140.1 177.0,140.0 177.5,140.0 178.0,140.0 178.5,140.0 179.0,140.0 179.5,140.0 180.0,140.0 180.5,140.0 181.0,140.0 181.5,140.0 182.0,140.0 182.5,140.0 183.0,140.0 183.5,140.1 184.0,140.1 184.5,140.1 185.0,140.1 185.5,140.1 186.0,140.1 186.5,140.1 187.0,140.1 187.5,140.1 188.0,140.1 188.5,140.1 189.0,140.1 189.5,140.1 190.0,140.2 190.5,140.1 191.0,140.1 191.5,140.1 192.0,140.1 192.5,140.1 193.0,140.1 193.5,140.1 194.0,140.1 194.5,140.1 195.0,140.1 195.5,140.1 196.0,140.1 196.5,140.1 197.0,140.1 197.5,140.1 198.0,140.1 198.5,140.1 199.0,140.1 199.5,140.1 200.0,140.1 200.5,140.1 201.0,140.1 201.5,140.1 202.0,140.1 202.5,140.1 203.0,140.1 203.5,140.1 204.0,140.1 204.5,140.1 205.0,140.1 205.5,140.1 206.0,140.1 206.5,140.1 207.0,140.1 207.5,140.1 208.0,140.1 208.5,140.2 209.0,140.2 209.5,140.2 210.0,140.2 210.5,140.2 211.0,140.2 211.5,140.2 212.0,140.2 212.5,140.2 213.0,140.2 213.5,140.2 214.0,140.2 214.5,140.2 215.0,140.2 215.5,140.2 216.0,140.2 216.5,140.3 217.0,140.3 217.5,140.3 218.0,140.3 218.5,140.3 219.0,140.3 219.5,140.3 220.0,140.3 220.5,140.3 221.0,140.3 221.5,140.3 222.0,140.3 222.5,140.3 223.0,140.3 223.5,140.3 224.0,140.3 224.5,140.3 225.0,140.3 225.5,140.4 226.0,140.4 226.5,140.4 227.0,140.4 227.5,140.4 228.0,140.4 228.5,140.4 229.0,140.4 229.5,140.4 230.0,140.4 230.5,140.3 231.0,140.3 231.5,140.2 232.0,140.1 232.5,140.1 233.0,140.0 233.5,139.9 234.0,139.9 234.5,139.8 235.0,139.7 235.5,139.7 236.0,139.6 236.5,139.5 237.0,139.5 237.5,139.4 238.0,139.3 238.5,139.3 239.0,139.2 239.5,139.1 240.0,139.1 240.5,139.2 241.0,139.3 241.5,139.5 242.0,139.6 242.5,139.8 243.0,139.9 243.5,140.1 244.0,140.2 244.5,140.4 245.0,140.5 245.5,140.7 246.0,140.8 246.5,141.0 247.0,141.1 247.5,141.1 248.0,140.8 248.5,140.6 249.0,140.3 249.5,140.1 250.0,139.8 250.5,139.6 251.0,139.3 251.5,139.1 252.0,138.8 252.5,138.6 253.0,138.4 253.5,138.2 254.0,138.0 254.5,137.8 255.0,137.5 255.5,137.3 256.0,137.1 256.5,136.8 257.0,136.5 257.5,136.2 258.0,135.9 258.5,135.6 259.0,135.3 259.5,135.2 260.0,135.7 260.5,136.2 261.0,136.7 261.5,137.2 262.0,137.3 262.5,136.8 263.0,136.3 263.5,135.8 264.0,135.3 264.5,134.7 265.0,134.0 265.5,133.3 266.0,132.6 266.5,131.9 267.0,131.2 267.5,131.1 268.0,131.5 268.5,131.9 269.0,132.3 269.5,132.7 270.0,133.1 270.5,133.4 271.0,133.8 271.5,134.1 272.0,134.4 272.5,134.3 273.0,134.1 273.5,133.8 274.0,133.6 274.5,133.3 275.0,133.1 275.5,132.8 276.0,132.6 276.5,132.4 277.0,132.2 277.5,132.0 278.0,131.8 278.5,131.6 279.0,131.4 279.5,131.1 280.0,130.9 280.5,130.6 281.0,130.4 281.5,130.1 282.0,129.8 282.5,129.1 283.0,128.5 283.5,127.9 284.0,127.3 284.5,126.7 285.0,125.8 285.5,124.3 286.0,122.9 286.5,121.5 287.0,122.0 287.5,122.9 288.0,123.8 288.5,124.7 289.0,124.9 289.5,125.2 290.0,125.4 290.5,125.7 291.0,126.0 291.5,126.2 292.0,126.5 292.5,126.4 293.0,126.2 293.5,126.1 294.0,126.0 294.5,125.9 295.0,125.7 295.5,125.6 296.0,125.5 296.5,125.4 297.0,125.2 297.5,125.1 298.0,125.0 298.5,124.9 299.0,124.7 299.5,124.6 300.0,124.5 300.5,124.4 301.0,124.2 301.5,124.1 302.0,123.7 302.5,123.4 303.0,123.0 303.5,122.7 304.0,122.4 304.5,122.0 305.0,121.5 305.5,120.7 306.0,119.8 306.5,119.0 307.0,118.2 307.5,117.4 308.0,117.8 308.5,118.2 309.0,118.5 309.5,118.9 310.0,119.3 310.5,119.6 311.0,119.8 311.5,120.0 312.0,120.2 312.5,120.4 313.0,120.6 313.5,120.8 314.0,120.7 314.5,120.7 315.0,120.6 315.5,120.6 316.0,120.5 316.5,120.5 317.0,120.4 317.5,120.4 318.0,120.4 318.5,120.3 319.0,120.3 319.5,120.3 320.0,120.3 320.5,120.2 321.0,120.2 321.5,120.2 322.0,120.1 322.5,120.1 323.0,120.0 323.5,120.0 324.0,119.9 324.5,119.9 325.0,119.8 325.5,119.5 326.0,119.2 326.5,118.9 327.0,118.6 327.5,118.2 328.0,117.9 328.5,117.9 329.0,118.4 329.5,118.8 330.0,119.2 330.5,119.7 331.0,120.1 331.5,120.2 332.0,120.2 332.5,120.3 333.0,120.3 333.5,120.4 334.0,120.4 334.5,120.4 335.0,120.3 335.5,120.2 336.0,120.1 336.5,120.0 337.0,119.9 337.5,119.8 338.0,119.8 338.5,119.9 339.0,120.0 339.5,120.1 340.0,120.3 340.5,120.4 341.0,120.5 341.5,120.7 342.0,120.8 342.5,120.4 343.0,120.1 343.5,119.7 344.0,119.3 344.5,118.9 345.0,118.9 345.5,119.1 346.0,119.4 346.5,119.6 347.0,119.8 347.5,120.0 348.0,120.2 348.5,120.4 349.0,120.6 349.5,120.8 350.0,120.9 350.5,120.9 351.0,120.9 351.5,121.0 352.0,121.0 352.5,121.1 353.0,121.1 353.5,121.2 354.0,121.1 354.5,121.1 355.0,121.1 355.5,121.1 356.0,121.1 356.5,121.1 357.0,121.1 357.5,121.1 358.0,121.1" fill="none" stroke="#a6a6aa" stroke-width="2.2" stroke-linejoin="round"/>
<polyline points="358.8,123.0 358.6,139.3" fill="none" stroke="#a6a6aa" stroke-width="1.4" stroke-linejoin="round"/>
<polyline points="360.8,140.8 361.0,140.6 361.1,140.4 361.3,140.2 361.4,140.0 361.6,139.8 361.7,139.6 361.8,139.9 361.8,140.1 361.9,140.4 362.0,140.6 362.1,140.9 362.1,141.2 362.2,141.4 362.3,141.7 362.4,141.9 362.4,142.2 362.6,141.9 362.7,141.7 362.8,141.4 362.9,141.1 363.1,141.4 363.2,141.6 363.3,141.9 363.4,142.1 363.5,142.3 363.6,142.6 363.8,142.8 363.9,143.1 364.0,143.3 364.1,143.5 364.2,143.8 364.3,144.0 364.5,144.3 364.6,144.6 364.7,144.9 364.8,144.6 364.9,144.4 365.1,144.2 365.2,144.0 365.3,143.8 365.5,143.5 365.6,143.3 365.7,143.1 365.8,142.9 366.0,142.6 366.1,142.9 366.2,143.1 366.3,143.3 366.4,143.6 366.5,143.8 366.6,144.0 366.8,144.2 366.9,144.5 367.0,144.7 367.1,144.9 367.2,144.7 367.3,144.4 367.4,144.2 367.5,144.0 367.6,143.7 367.7,143.5 367.8,143.2 367.9,143.0 368.0,142.8 368.1,142.5 368.2,142.3 368.3,142.0 368.4,141.8 368.5,141.5 368.6,141.3 368.7,141.6 368.8,141.8 368.8,142.1 368.9,142.4 368.9,142.6 369.0,142.9 369.1,143.2 369.1,143.4 369.2,143.7 369.3,143.9 369.3,144.2 369.4,144.0 369.6,143.8 369.7,143.5" fill="none" stroke="#a6a6aa" stroke-width="1.6" stroke-linejoin="round"/>
<polyline points="371.3,143.2 371.4,143.5 371.5,143.7 371.5,144.0 371.6,144.2 371.7,144.4 371.8,144.7 371.9,144.4 372.0,144.2 372.1,143.9 372.2,143.7 372.3,143.4 372.4,143.2" fill="none" stroke="#a6a6aa" stroke-width="1.6" stroke-linejoin="round"/>
<polyline points="374.0,145.5 374.3,145.6 374.6,145.7 374.9,145.8 375.2,145.8 375.3,145.6 375.4,145.4 375.6,145.2 375.7,144.9 375.8,144.7 376.0,144.5 376.1,144.2 376.2,144.0 376.4,143.8 376.5,143.6 376.6,143.3 376.7,143.6 376.9,143.8 377.0,144.0 377.1,144.3 377.2,144.5 377.3,144.7 377.4,144.9 377.5,145.2 377.6,145.0 377.8,144.7 377.9,144.5 378.1,144.3 378.3,144.1 378.4,143.9 378.6,143.7 378.7,143.5 378.9,143.3 379.0,143.0 379.2,142.8 379.3,143.1 379.4,143.3 379.5,143.5 379.6,143.7 379.7,144.0 379.8,144.2 379.9,144.4 380.0,144.6 380.1,144.9 380.2,145.1 380.3,144.9 380.5,144.7 380.6,144.4 380.7,144.2 380.9,144.0 381.0,143.8 381.1,143.6 381.3,143.3 381.4,143.1 381.5,142.9 381.7,143.1 381.8,143.4 381.9,143.6 382.0,143.8 382.2,144.1 382.3,144.3 382.4,144.5 382.5,144.8 382.7,145.0 382.8,145.2 382.9,145.5" fill="none" stroke="#a6a6aa" stroke-width="1.6" stroke-linejoin="round"/>
<polyline points="384.5,144.8 384.6,145.1 384.8,145.3 384.9,145.5 385.0,145.7 385.2,146.0 385.3,146.2 385.4,146.4 385.6,146.7" fill="none" stroke="#a6a6aa" stroke-width="1.6" stroke-linejoin="round"/>
<polyline points="387.1,143.2 387.3,143.4 387.4,143.7 387.5,143.9 387.6,144.2 387.7,144.4 387.8,144.6 387.9,144.9 388.1,145.1 388.1,144.9 388.2,144.6 388.3,144.4 388.3,144.2 388.4,143.9 388.5,143.7 388.5,143.4 388.6,143.2 388.7,143.0 388.8,142.7 388.8,142.5 389.0,142.7 389.1,142.9 389.2,143.1 389.4,143.3 389.5,143.5 389.7,143.8 389.8,144.0 389.9,144.2 390.1,144.4 390.2,144.6 390.4,144.8 390.4,144.6 390.5,144.4 390.6,144.1 390.7,143.9 390.8,143.6 390.9,143.4 390.9,143.2 391.0,142.9 391.1,142.7 391.2,142.5 391.3,142.2 391.5,142.3 391.8,142.4 392.0,142.5 392.3,142.6 392.5,142.7 392.7,143.0 392.8,143.2 392.9,143.4 393.1,143.7 393.2,143.9 393.3,144.1 393.5,144.4 393.6,144.6 393.7,144.8 393.9,144.7 394.1,144.5 394.3,144.3 394.4,144.1 394.6,143.9 394.8,143.7 395.0,143.5 395.1,143.3 395.2,143.0 395.3,142.7 395.4,142.5 395.5,142.2 395.6,142.0 395.7,141.7 395.8,141.5 395.9,141.2 396.0,141.4" fill="none" stroke="#a6a6aa" stroke-width="1.6" stroke-linejoin="round"/>
<polyline points="397.7,144.1 397.7,143.9 397.8,143.6 397.8,143.4 397.9,143.1 398.0,142.9 398.0,142.7 398.1,142.4 398.1,142.2 398.2,141.9 398.3,141.7 398.3,141.4 398.4,141.2 398.4,141.4 398.5,141.7 398.6,141.9 398.7,142.2 398.8,142.4 398.8,142.7" fill="none" stroke="#a6a6aa" stroke-width="1.6" stroke-linejoin="round"/>
<polyline points="400.4,142.2 400.5,142.0 400.6,142.2 400.8,142.4 400.9,142.6 401.0,142.9 401.2,143.1 401.3,143.3 401.5,143.5 401.6,143.7 401.7,144.0 401.9,144.2 402.0,144.4 402.3,144.3 402.6,144.2 402.9,144.2 403.2,144.1 403.3,143.8 403.3,143.6 403.4,143.3 403.5,143.1 403.5,142.8 403.6,142.5 403.7,142.3 403.8,142.0 403.8,141.8 403.9,141.5 404.0,141.3 404.2,141.5 404.4,141.7 404.6,141.9 404.7,142.1 404.9,142.4 405.1,142.6 405.3,142.8 405.5,143.0 405.6,143.2 405.8,143.4 406.0,143.6 406.2,143.8 406.3,144.0 406.5,143.8 406.6,143.5 406.7,143.3 406.8,143.1 406.9,142.8 407.0,142.6 407.2,142.3 407.3,142.1 407.4,141.8 407.5,141.6 407.6,141.4 407.7,141.6 407.7,141.9 407.8,142.1 407.8,142.4 407.9,142.7 407.9,142.9 408.0,143.2 408.0,143.4 408.1,143.7 408.1,144.0 408.2,144.2 408.2,144.5 408.3,144.7 408.4,144.5 408.5,144.2 408.6,144.0 408.7,143.8 408.8,143.5 408.9,143.3 409.0,143.0 409.1,142.8 409.2,142.5 409.3,142.3" fill="none" stroke="#a6a6aa" stroke-width="1.6" stroke-linejoin="round"/>
<polyline points="410.9,144.0 411.0,144.2 411.1,144.0 411.2,143.7 411.3,143.5 411.4,143.2 411.5,142.9 411.6,142.7 411.7,142.4 411.8,142.1 412.0,142.2" fill="none" stroke="#a6a6aa" stroke-width="1.6" stroke-linejoin="round"/>
<polyline points="413.6,143.2 413.7,143.5 413.8,143.7 414.0,143.9 414.1,143.7 414.3,143.5 414.4,143.2 414.5,143.0 414.7,142.8 414.8,142.6 415.0,142.3 415.1,142.1 415.2,141.9 415.4,141.7 415.5,141.9 415.6,142.1 415.7,142.4 415.8,142.6 416.0,142.8 416.1,143.1 416.2,143.3 416.3,143.5 416.4,143.8 416.5,143.5 416.6,143.3 416.8,143.1 416.9,142.8 417.0,142.6 417.1,142.4 417.2,142.2 417.3,141.9 417.4,142.2 417.6,142.4 417.7,142.6 417.8,142.8 417.9,143.1 418.1,143.3 418.2,143.5 418.3,143.7 418.4,144.0 418.6,144.2 418.7,144.4 418.8,144.7 418.9,144.4 419.0,144.2 419.1,143.9 419.2,143.7 419.3,143.4 419.4,143.2 419.5,142.9 419.6,142.7 419.6,142.4 419.7,142.2 419.8,141.9 419.9,141.7 420.0,141.9 420.1,142.2 420.1,142.4 420.2,142.7 420.2,142.9 420.3,143.2 420.4,143.4 420.4,143.7 420.5,143.9 420.6,144.2 420.6,144.4 420.7,144.7 420.8,144.9 420.9,144.7 420.9,144.5 421.0,144.2 421.1,144.0 421.2,143.7 421.3,143.5 421.4,143.3 421.5,143.0 421.6,142.8 421.7,142.5 421.8,142.3 422.1,142.3 422.4,142.2" fill="none" stroke="#a6a6aa" stroke-width="1.6" stroke-linejoin="round"/>
<polyline points="424.1,143.9 424.3,144.2 424.4,144.4 424.5,144.6 424.6,144.4 424.7,144.1 424.8,143.8 424.9,143.6 425.0,143.3 425.0,143.1 425.1,142.8 425.2,142.5" fill="none" stroke="#a6a6aa" stroke-width="1.6" stroke-linejoin="round"/>
<polyline points="426.8,142.6 426.9,142.9 427.0,143.1 427.0,143.4 427.1,143.6 427.2,143.9 427.3,144.1 427.3,144.3 427.4,144.6 427.5,144.8 427.6,145.1 427.7,144.8 427.8,144.6 427.9,144.4 428.0,144.1 428.0,143.9 428.1,143.6 428.2,143.4 428.3,143.2 428.4,142.9 428.5,142.7 428.6,142.4 428.7,142.2 428.8,142.0 428.9,141.7 429.0,141.5 429.1,141.7 429.2,141.9 429.3,142.2 429.4,142.4 429.5,142.6 429.6,142.8 429.7,143.1 429.8,143.3 429.9,143.5 430.0,143.8 430.1,144.0 430.3,144.2 430.3,144.0 430.4,143.7 430.4,143.5 430.5,143.2 430.5,143.0 430.6,142.7 430.7,142.5 430.7,142.2 430.8,142.0 430.8,141.7 431.0,141.9 431.1,142.2 431.2,142.4 431.3,142.6 431.4,142.8 431.6,143.1 431.7,143.3 431.8,143.5 431.9,143.7 432.0,143.9 432.2,144.2 432.3,144.4 432.4,144.6 432.5,144.8 432.6,144.6 432.7,144.4 432.8,144.1 432.9,143.9 433.0,143.7 433.1,143.4 433.2,143.2 433.3,143.0 433.4,142.8 433.5,142.5 433.6,142.8 433.7,143.0 433.8,143.3 433.8,143.5 433.9,143.7 434.0,144.0 434.0,144.2 434.1,144.5 434.2,144.7 434.2,144.9 434.5,144.8 434.7,144.6 434.9,144.5 435.2,144.3 435.4,144.2 435.6,144.0" fill="none" stroke="#a6a6aa" stroke-width="1.6" stroke-linejoin="round"/>
<polyline points="437.3,143.5 437.4,143.2 437.5,143.0 437.6,142.7 437.7,142.5 437.8,142.2 437.9,142.0 438.0,142.2 438.1,142.5 438.2,142.7 438.3,143.0 438.4,143.2" fill="none" stroke="#a6a6aa" stroke-width="1.6" stroke-linejoin="round"/>
<polyline points="439.9,142.2 440.1,142.5 440.3,142.7 440.5,142.9 440.6,143.1 440.8,143.3 441.0,143.5 441.2,143.7 441.3,143.9 441.6,144.1 441.8,144.2 442.0,144.3 442.3,144.4 442.5,144.5 442.6,144.3 442.7,144.1 442.8,143.9 443.0,143.6 443.1,143.4 443.2,143.2 443.3,143.0 443.4,142.7 443.5,142.5 443.6,142.8 443.7,143.0 443.7,143.3 443.8,143.5 443.9,143.7 444.0,144.0 444.0,144.2 444.1,144.5 444.2,144.7 444.2,145.0 444.3,145.2 444.4,145.0 444.5,144.8 444.7,144.5 444.8,144.3 444.9,144.1 445.0,143.8 445.1,143.6 445.2,143.4 445.3,143.1 445.5,142.9 445.6,142.7 445.7,142.9 445.8,143.1 446.0,143.3 446.1,143.5 446.2,143.8 446.4,144.0 446.5,144.2 446.6,144.4 446.7,144.6 446.9,144.9 447.0,145.1 447.1,144.8 447.1,144.6 447.2,144.3 447.3,144.1 447.4,143.9 447.4,143.6 447.5,143.4 447.6,143.1 447.7,142.9 447.7,142.6 447.8,142.4 447.9,142.6 448.0,142.9 448.1,143.1 448.2,143.3 448.3,143.6 448.4,143.8 448.5,144.1 448.6,144.3 448.7,144.5 448.8,144.8" fill="none" stroke="#a6a6aa" stroke-width="1.6" stroke-linejoin="round"/>
<polyline points="450.5,143.4 450.6,143.2 450.7,142.9 450.8,142.7 450.8,142.4 450.9,142.2 451.0,141.9 451.2,142.1 451.3,142.4 451.4,142.6 451.5,142.9" fill="none" stroke="#a6a6aa" stroke-width="1.6" stroke-linejoin="round"/>
<polyline points="453.1,142.9 453.2,142.7 453.4,142.4 453.5,142.2 453.6,142.0 453.9,141.9 454.2,141.9 454.5,141.8 454.8,141.8 455.1,141.8 455.3,141.8 455.6,141.9 455.9,141.9 456.0,142.1 456.1,142.4 456.2,142.6 456.3,142.9 456.3,143.1 456.4,143.4 456.5,143.6 456.6,143.9 456.7,144.1 456.7,144.4 456.8,144.6 456.9,144.9 457.0,145.1 457.1,144.9 457.2,144.7 457.3,144.4 457.4,144.2 457.5,144.0 457.6,143.7 457.8,143.5 457.9,143.3 458.0,143.1 458.1,142.8 458.2,142.6 458.4,142.4 458.6,142.3 458.8,142.1 459.1,141.9 459.2,142.2 459.3,142.4 459.4,142.7 459.5,142.9 459.6,143.2 459.7,143.4 459.8,143.7 459.9,144.0 460.0,144.2 460.1,144.5 460.2,144.2 460.3,144.0 460.4,143.7 460.5,143.5 460.6,143.2 460.8,143.0 460.9,142.8 461.0,142.5 461.1,142.3 461.3,142.2 461.6,142.1 461.8,142.0 462.1,141.8" fill="none" stroke="#a6a6aa" stroke-width="1.6" stroke-linejoin="round"/>
<polyline points="463.7,145.1 463.8,145.3 463.8,145.1 463.9,144.8 464.0,144.6 464.1,144.3 464.1,144.1 464.2,143.8 464.3,143.6 464.3,143.3 464.4,143.1 464.5,142.8 464.6,142.5 464.7,142.8 464.8,143.0" fill="none" stroke="#a6a6aa" stroke-width="1.6" stroke-linejoin="round"/>
<polyline points="466.4,144.4 466.6,144.4 466.9,144.4 467.2,144.5 467.3,144.2 467.4,144.0 467.5,143.7 467.6,143.5 467.6,143.2 467.7,143.0 467.8,142.7 467.9,142.5 468.0,142.2 468.1,142.0 468.2,141.7 468.3,142.0 468.4,142.2 468.5,142.4 468.6,142.7 468.7,142.9 468.8,143.2 468.9,143.4 469.0,143.7 469.1,143.9 469.2,144.2 469.4,144.4 469.7,144.5 469.9,144.7 470.2,144.9 470.3,144.6 470.4,144.4 470.5,144.1 470.6,143.9 470.7,143.6 470.8,143.4 470.8,143.1 470.9,142.9 471.0,142.6 471.1,142.4 471.2,142.1 471.3,141.9 471.4,141.6 471.5,141.9 471.6,142.1 471.7,142.4 471.8,142.6 471.9,142.9 471.9,143.1 472.0,143.4 472.1,143.6 472.2,143.9 472.3,144.2 472.4,144.4 472.5,144.7 472.5,144.9 472.7,144.7 472.8,144.5 472.9,144.2 473.0,144.0 473.2,143.8 473.3,143.5 473.4,143.3 473.5,143.1 473.7,142.8 473.8,142.6 473.9,142.4 474.1,142.2 474.4,142.0 474.6,141.8 474.9,141.6 475.0,141.9 475.0,142.1 475.1,142.4 475.2,142.7 475.3,142.9 475.3,143.2" fill="none" stroke="#a6a6aa" stroke-width="1.6" stroke-linejoin="round"/>
<polyline points="52.0,126.3 52.2,126.1 52.5,125.9 52.7,125.7 53.0,125.5 53.2,125.6 53.5,125.6 53.8,125.7 54.0,125.7 54.2,125.9 54.4,126.1 54.6,126.3 54.7,126.5 54.9,126.7 55.1,126.8 55.3,127.0 55.4,127.2 55.6,127.0 55.7,126.8 55.9,126.6 56.0,126.4 56.2,126.1 56.3,125.9 56.5,126.1 56.8,126.2 57.0,126.4 57.2,126.6" fill="none" stroke="#0c62b2" stroke-width="1.5" stroke-linejoin="round"/>
<polyline points="58.9,125.7 59.1,125.9 59.2,126.1 59.3,126.4 59.5,126.6 59.6,126.8 59.7,127.0 59.9,127.2" fill="none" stroke="#0c62b2" stroke-width="1.5" stroke-linejoin="round"/>
<polyline points="61.7,127.1 61.9,126.9 62.1,126.7 62.3,126.5 62.5,126.3 62.7,126.1 62.9,125.9 63.2,126.0 63.5,126.0 63.8,126.0 64.0,126.1 64.3,126.1 64.5,126.3 64.7,126.6 64.9,126.8 65.1,127.0 65.3,126.8 65.6,126.6 65.8,126.4 66.0,126.3 66.2,126.1 66.4,125.9 66.6,126.0 66.8,126.2 66.9,126.4 67.1,126.6 67.3,126.7 67.5,126.9 67.7,127.1 67.9,127.2 68.1,127.3 68.4,127.5 68.6,127.6 68.8,127.4 69.0,127.2 69.2,127.0 69.4,126.8 69.6,126.7 69.8,126.5 70.0,126.3 70.2,126.2 70.5,126.1" fill="none" stroke="#0c62b2" stroke-width="1.5" stroke-linejoin="round"/>
<path d="M72.0,125.2 L72.5,126.2 L73.0,127.5 L73.5,128.1 L74.0,128.2 L74.5,128.2 L75.0,128.5 L75.5,128.5 L76.0,128.6 L76.5,129.7 L77.0,129.7 L77.5,129.6 L78.0,129.2 L78.5,129.2 L79.0,128.4 L79.5,128.7 L80.0,128.0 L80.5,128.9 L81.0,129.3 L81.5,129.2 L82.0,129.4 L82.5,128.6 L83.0,128.7 L83.5,128.0 L84.0,127.7 L84.5,126.2 L85.0,123.0 L85.5,118.8 L86.0,113.5 L86.5,108.5 L87.0,102.8 L87.5,96.3 L88.0,90.2 L88.5,85.5 L89.0,82.4 L89.5,81.9 L90.0,81.0 L90.5,81.7 L91.0,81.3 L91.5,81.5 L92.0,81.7 L92.5,82.2 L93.0,81.3 L93.5,82.7 L94.0,84.7 L94.5,85.1 L95.0,87.5 L95.5,89.0 L96.0,90.0 L96.5,91.3 L97.0,92.7 L97.5,93.4 L98.0,93.5 L98.5,93.7 L99.0,93.7 L99.5,94.6 L100.0,93.9 L100.5,94.7 L101.0,95.0 L101.5,95.0 L102.0,94.9 L102.5,95.2 L103.0,94.9 L103.5,94.9 L104.0,95.8 L104.5,95.7 L105.0,94.7 L105.5,94.7 L106.0,94.9 L106.5,94.3 L107.0,94.1 L107.5,94.0 L108.0,93.4 L108.5,93.7 L109.0,93.1 L109.5,92.9 L110.0,92.3 L110.5,91.6 L111.0,90.3 L111.5,89.1 L112.0,88.4 L112.5,86.4 L113.0,86.0 L113.5,84.4 L114.0,82.9 L114.5,82.1 L115.0,79.5 L115.5,77.3 L116.0,74.3 L116.5,72.2 L117.0,70.5 L117.5,68.7 L118.0,68.0 L118.5,66.8 L119.0,67.0 L119.5,67.2 L120.0,66.7 L120.5,66.0 L121.0,68.5 L121.5,69.9 L122.0,73.5 L122.0,83.9 L121.5,79.4 L121.0,76.9 L120.5,74.8 L120.0,74.2 L119.5,74.0 L119.0,73.8 L118.5,73.3 L118.0,75.9 L117.5,78.2 L117.0,80.5 L116.5,82.2 L116.0,84.2 L115.5,86.1 L115.0,87.4 L114.5,88.8 L114.0,90.1 L113.5,91.7 L113.0,93.0 L112.5,94.7 L112.0,96.2 L111.5,95.8 L111.0,97.0 L110.5,97.8 L110.0,98.5 L109.5,98.5 L109.0,98.8 L108.5,99.9 L108.0,99.7 L107.5,100.1 L107.0,100.1 L106.5,100.2 L106.0,100.2 L105.5,100.4 L105.0,99.4 L104.5,99.5 L104.0,99.7 L103.5,99.6 L103.0,100.1 L102.5,100.3 L102.0,99.8 L101.5,99.5 L101.0,100.3 L100.5,100.1 L100.0,100.0 L99.5,99.9 L99.0,99.3 L98.5,98.5 L98.0,98.3 L97.5,97.8 L97.0,96.4 L96.5,96.4 L96.0,95.3 L95.5,95.3 L95.0,94.0 L94.5,93.4 L94.0,92.2 L93.5,90.7 L93.0,88.6 L92.5,88.3 L92.0,87.5 L91.5,88.2 L91.0,88.0 L90.5,88.6 L90.0,89.9 L89.5,91.8 L89.0,92.6 L88.5,96.7 L88.0,102.0 L87.5,107.8 L87.0,113.8 L86.5,119.0 L86.0,122.4 L85.5,126.2 L85.0,128.6 L84.5,131.2 L84.0,131.8 L83.5,132.3 L83.0,133.4 L82.5,132.9 L82.0,133.6 L81.5,133.4 L81.0,133.7 L80.5,133.4 L80.0,133.1 L79.5,133.1 L79.0,133.0 L78.5,132.6 L78.0,133.1 L77.5,133.0 L77.0,133.4 L76.5,133.3 L76.0,132.8 L75.5,132.7 L75.0,132.2 L74.5,131.9 L74.0,132.9 L73.5,132.7 L73.0,133.0 L72.5,132.3 L72.0,130.8 Z" fill="#0c62b2"/>
<polyline points="72.0,128.0 72.5,129.3 73.0,130.6 73.5,130.6 74.0,130.7 74.5,130.7 75.0,130.8 75.5,130.8 76.0,130.8 76.5,130.9 77.0,130.9 77.5,131.0 78.0,131.0 78.5,131.0 79.0,131.0 79.5,131.0 80.0,131.0 80.5,131.0 81.0,131.0 81.5,131.0 82.0,131.0 82.5,130.7 83.0,130.3 83.5,130.0 84.0,129.7 84.5,128.4 85.0,125.6 85.5,122.1 86.0,117.5 86.5,112.8 87.0,107.6 87.5,101.5 88.0,95.9 88.5,91.0 89.0,87.2 89.5,86.7 90.0,86.1 90.5,85.6 91.0,85.0 91.5,85.2 92.0,85.4 92.5,85.6 93.0,85.8 93.5,87.0 94.0,88.2 94.5,89.5 95.0,90.7 95.5,91.8 96.0,93.0 96.5,93.6 97.0,94.2 97.5,94.9 98.0,95.5 98.5,95.9 99.0,96.2 99.5,96.6 100.0,97.0 100.5,97.1 101.0,97.2 101.5,97.2 102.0,97.3 102.5,97.4 103.0,97.5 103.5,97.6 104.0,97.7 104.5,97.6 105.0,97.5 105.5,97.4 106.0,97.3 106.5,97.2 107.0,97.2 107.5,97.1 108.0,97.0 108.5,96.8 109.0,96.5 109.5,96.2 110.0,96.0 110.5,95.1 111.0,94.2 111.5,93.4 112.0,92.5 112.5,91.2 113.0,89.8 113.5,88.5 114.0,86.8 114.5,85.2 115.0,83.5 115.5,81.5 116.0,79.5 116.5,77.5 117.0,75.5 117.5,73.5 118.0,71.9 118.5,70.2 119.0,70.3 119.5,70.4 120.0,70.4 120.5,70.5 121.0,72.8 121.5,75.0 122.0,78.8" fill="none" stroke="#0c62b2" stroke-width="2.4" stroke-linejoin="round"/>
<polyline points="122.6,84.0 122.7,84.8 123.3,87.0 123.8,87.3 124.1,85.9 124.8,85.3 124.9,85.9 125.6,86.8 125.9,86.0 126.2,85.8 126.2,83.8 127.0,85.5 127.2,85.9 128.1,86.2 129.8,86.2 130.0,85.7 130.5,83.6 131.8,84.3 132.7,84.4 133.5,86.6 133.4,86.8 133.5,87.9 133.7,89.8 133.5,89.7 133.8,91.5" fill="none" stroke="#0c62b2" stroke-width="1.9" stroke-linejoin="round"/>
<polyline points="52.0,129.2 52.2,129.4 52.3,129.6 52.5,129.8 52.7,130.1 52.9,130.3 53.0,130.1 53.1,129.8 53.3,129.6 53.4,129.4 53.5,129.2 53.7,129.0 53.8,128.8 53.9,128.5 54.1,128.3 54.2,128.1 54.3,127.9 54.5,128.1 54.6,128.4 54.7,128.6 54.8,128.8 54.9,129.1" fill="none" stroke="#ef7b2c" stroke-width="1.5" stroke-linejoin="round"/>
<polyline points="56.5,128.6 56.7,128.8 56.9,129.0 57.0,129.2 57.2,129.4 57.4,129.6" fill="none" stroke="#ef7b2c" stroke-width="1.5" stroke-linejoin="round"/>
<polyline points="59.2,129.6 59.4,129.8 59.5,130.0 59.7,130.2 59.8,130.4 59.9,130.2 60.1,130.0 60.2,129.8 60.3,129.6 60.5,129.4 60.6,129.1 60.8,128.9 60.9,128.7 61.0,128.5 61.2,128.8 61.3,129.0 61.4,129.2 61.6,129.4 61.7,129.7 61.8,129.9 62.0,130.1 62.1,130.4 62.2,130.1 62.4,129.9 62.6,129.7 62.7,129.5 62.9,129.2 63.0,129.0 63.2,128.8 63.4,128.5 63.5,128.8 63.7,129.0 63.8,129.2 64.0,129.5 64.2,129.7 64.3,129.9 64.4,129.7 64.5,129.4 64.6,129.2 64.7,128.9 64.9,128.7 65.0,128.4 65.1,128.2 65.2,127.9 65.5,127.9 65.7,127.9 66.0,127.8 66.3,127.8 66.6,127.7 66.7,128.0 66.8,128.2 66.9,128.5 67.0,128.7 67.1,129.0 67.2,129.2 67.2,129.5 67.3,129.7 67.4,130.0 67.6,129.7 67.7,129.5 67.8,129.3 67.9,129.0 68.0,128.8" fill="none" stroke="#ef7b2c" stroke-width="1.5" stroke-linejoin="round"/>
<polyline points="69.7,130.0 69.8,129.8 70.0,129.5 70.1,129.3 70.3,129.1 70.4,128.9 70.6,128.7 70.7,128.5" fill="none" stroke="#ef7b2c" stroke-width="1.5" stroke-linejoin="round"/>
<path d="M72.0,126.5 L72.5,126.6 L73.0,126.3 L73.5,126.8 L74.0,126.7 L74.5,126.8 L75.0,127.7 L75.5,127.2 L76.0,127.8 L76.5,128.0 L77.0,127.8 L77.5,127.9 L78.0,128.5 L78.5,128.3 L79.0,128.1 L79.5,127.7 L80.0,126.7 L80.5,125.0 L81.0,124.3 L81.5,122.9 L82.0,122.0 L82.5,121.4 L83.0,121.5 L83.5,121.5 L84.0,121.9 L84.5,122.0 L85.0,122.0 L85.5,122.0 L86.0,121.6 L86.5,121.2 L87.0,121.5 L87.5,121.8 L88.0,121.2 L88.5,121.8 L89.0,122.1 L89.5,122.4 L90.0,122.1 L90.5,121.7 L91.0,121.4 L91.5,121.7 L92.0,121.4 L92.5,120.7 L93.0,120.5 L93.5,121.5 L94.0,121.4 L94.5,121.6 L95.0,121.6 L95.5,122.6 L96.0,122.8 L96.5,122.7 L97.0,123.2 L97.5,123.6 L98.0,123.2 L98.5,123.1 L99.0,122.5 L99.5,122.8 L100.0,122.3 L100.5,122.4 L101.0,122.0 L101.5,121.6 L102.0,121.5 L102.5,121.2 L103.0,121.8 L103.5,122.1 L104.0,121.6 L104.5,122.2 L105.0,121.4 L105.5,121.9 L106.0,121.7 L106.5,121.0 L107.0,121.6 L107.5,121.2 L108.0,120.8 L108.5,121.0 L109.0,121.7 L109.5,121.4 L110.0,121.9 L110.5,121.2 L111.0,121.7 L111.5,122.1 L112.0,121.7 L112.5,122.2 L113.0,122.0 L113.5,122.2 L114.0,122.3 L114.5,122.9 L115.0,121.9 L115.5,122.4 L116.0,122.6 L116.5,122.0 L117.0,122.4 L117.5,122.9 L118.0,122.4 L118.5,121.0 L119.0,121.7 L119.5,121.1 L120.0,121.8 L120.5,121.7 L121.0,122.0 L121.5,122.2 L122.0,122.8 L122.0,129.2 L121.5,128.9 L121.0,129.6 L120.5,129.9 L120.0,130.2 L119.5,130.2 L119.0,130.8 L118.5,130.3 L118.0,130.1 L117.5,130.0 L117.0,129.8 L116.5,130.1 L116.0,130.3 L115.5,130.2 L115.0,129.6 L114.5,130.0 L114.0,129.2 L113.5,129.3 L113.0,128.3 L112.5,128.8 L112.0,128.0 L111.5,128.4 L111.0,128.0 L110.5,128.3 L110.0,128.0 L109.5,128.5 L109.0,128.2 L108.5,127.9 L108.0,129.0 L107.5,128.8 L107.0,128.5 L106.5,128.4 L106.0,128.8 L105.5,130.8 L105.0,129.6 L104.5,129.9 L104.0,129.5 L103.5,128.8 L103.0,128.5 L102.5,128.2 L102.0,128.1 L101.5,128.1 L101.0,128.5 L100.5,129.1 L100.0,129.6 L99.5,129.2 L99.0,129.4 L98.5,129.7 L98.0,129.9 L97.5,129.3 L97.0,128.6 L96.5,129.0 L96.0,129.1 L95.5,128.8 L95.0,128.5 L94.5,129.2 L94.0,129.2 L93.5,129.4 L93.0,128.8 L92.5,129.1 L92.0,129.1 L91.5,128.4 L91.0,128.1 L90.5,127.7 L90.0,126.9 L89.5,126.4 L89.0,127.4 L88.5,126.6 L88.0,127.7 L87.5,127.9 L87.0,128.0 L86.5,128.6 L86.0,128.4 L85.5,128.0 L85.0,128.0 L84.5,128.5 L84.0,128.6 L83.5,128.7 L83.0,128.2 L82.5,128.7 L82.0,128.7 L81.5,129.2 L81.0,130.0 L80.5,130.0 L80.0,130.4 L79.5,130.6 L79.0,131.2 L78.5,131.7 L78.0,132.0 L77.5,131.4 L77.0,132.4 L76.5,131.8 L76.0,131.6 L75.5,131.5 L75.0,130.9 L74.5,130.6 L74.0,130.7 L73.5,131.3 L73.0,131.0 L72.5,131.2 L72.0,131.0 Z" fill="#ef7b2c"/>
<polyline points="72.0,129.2 72.5,129.3 73.0,129.3 73.5,129.3 74.0,129.4 74.5,129.4 75.0,129.4 75.5,129.5 76.0,129.5 76.5,129.5 77.0,129.6 77.5,129.6 78.0,129.6 78.5,129.7 79.0,129.7 79.5,129.8 80.0,128.8 80.5,127.8 81.0,126.7 81.5,125.7 82.0,125.1 82.5,124.5 83.0,124.5 83.5,124.4 84.0,124.4 84.5,124.4 85.0,124.3 85.5,124.3 86.0,124.3 86.5,124.2 87.0,124.2 87.5,124.2 88.0,124.2 88.5,124.3 89.0,124.4 89.5,124.5 90.0,124.6 90.5,124.7 91.0,124.8 91.5,124.9 92.0,125.0 92.5,125.1 93.0,125.2 93.5,125.4 94.0,125.5 94.5,125.6 95.0,125.7 95.5,125.8 96.0,126.0 96.5,125.9 97.0,125.9 97.5,125.9 98.0,125.9 98.5,125.9 99.0,125.9 99.5,125.9 100.0,125.8 100.5,125.8 101.0,125.7 101.5,125.6 102.0,125.5 102.5,125.5 103.0,125.4 103.5,125.3 104.0,125.2 104.5,125.2 105.0,125.2 105.5,125.2 106.0,125.2 106.5,125.2 107.0,125.2 107.5,125.2 108.0,125.2 108.5,125.2 109.0,125.2 109.5,125.2 110.0,125.2 110.5,125.2 111.0,125.2 111.5,125.2 112.0,125.2 112.5,125.2 113.0,125.2 113.5,125.3 114.0,125.3 114.5,125.3 115.0,125.3 115.5,125.3 116.0,125.3 116.5,125.4 117.0,125.5 117.5,125.5 118.0,125.6 118.5,125.6 119.0,125.7 119.5,125.7 120.0,125.8 120.5,125.9 121.0,126.0 121.5,126.1 122.0,126.2" fill="none" stroke="#ef7b2c" stroke-width="2.2" stroke-linejoin="round"/>
<polyline points="123.0,126.0 123.3,125.9 123.6,125.8 123.8,125.7 123.9,126.0 124.0,126.2 124.1,126.5 124.1,126.8 124.2,127.0 124.3,127.3 124.4,127.5 124.4,127.8 124.5,128.0 124.6,128.3 124.7,128.5 124.7,128.8 124.8,129.0 125.1,129.2 125.3,129.3 125.6,129.5 125.8,129.7 125.9,129.4 126.1,129.2 126.2,129.0 126.3,128.7 126.4,128.5 126.5,128.3 126.7,128.1 126.8,127.8 126.9,127.6 127.0,127.4 127.1,127.2 127.2,127.4 127.2,127.7 127.3,127.9 127.3,128.1 127.4,128.4 127.4,128.6 127.4,128.9 127.5,129.1 127.5,129.4 127.6,129.6" fill="none" stroke="#ef7b2c" stroke-width="2.0" stroke-linejoin="round"/>
<polyline points="129.2,131.0 129.3,130.8 129.4,130.5 129.5,130.3 129.6,130.0 129.8,129.8 129.9,130.0 130.1,130.2 130.2,130.5" fill="none" stroke="#ef7b2c" stroke-width="2.0" stroke-linejoin="round"/>
<polyline points="131.9,129.9 132.0,129.6 132.1,129.4 132.2,129.7 132.2,129.9 132.3,130.2 132.4,130.4 132.5,130.7 132.5,130.9 132.6,131.2 132.7,131.5 132.8,131.7 132.9,132.0 132.9,132.2 133.0,132.5 133.1,132.7 133.2,133.0 133.2,132.7 133.2,132.5 133.2,132.2 133.2,131.9 133.2,131.6 133.2,131.4 133.2,131.1 133.3,130.8 133.3,130.6 133.3,130.3 133.3,130.0 133.3,129.8 133.4,130.0 133.6,130.3 133.7,130.6 133.9,130.9 133.9,130.6 133.9,130.4 134.0,130.1 134.0,129.9 134.0,129.6 134.1,129.4 134.1,129.1 134.2,128.8 134.2,128.6 134.2,128.3 134.3,128.1 134.4,128.3 134.6,128.5 134.8,128.7 135.0,128.9 135.0,128.6 135.1,128.4 135.1,128.1 135.1,127.8 135.2,127.6 135.2,127.3 135.2,127.1 135.2,126.8 135.3,126.5 135.3,126.3 135.3,126.0 135.4,125.7 135.4,125.5 135.4,125.2 135.5,124.9 135.5,125.2 135.6,125.4 135.6,125.7 135.7,125.9 135.8,126.2 135.8,126.4 135.9,126.6 135.9,126.9 136.0,127.1 136.0,127.4 136.1,127.6 136.2,127.9 136.2,128.1 136.3,128.3 136.3,128.6 136.4,128.8 136.5,129.1 136.5,129.3 136.6,129.1 136.7,128.9 136.8,128.6 136.9,128.4 137.1,128.2 137.1,128.4 137.2,128.7 137.2,128.9 137.3,129.2 137.3,129.5 137.4,129.7 137.5,130.0 137.5,130.3 137.6,130.5 137.6,130.8 137.7,131.1 137.7,131.3 138.0,131.4 138.3,131.4 138.6,131.4 138.9,131.5 139.0,131.2 139.2,131.0 139.3,130.8 139.4,130.5 139.5,130.3 139.6,130.1 139.7,129.8 139.8,129.6 139.9,129.4 140.0,129.6 140.1,129.9 140.2,130.1 140.3,130.4 140.3,130.6 140.4,130.9 140.5,131.1 140.6,131.4 140.7,131.6 140.8,131.9" fill="none" stroke="#ef7b2c" stroke-width="2.0" stroke-linejoin="round"/>
<polyline points="142.4,129.1 142.5,129.3 142.6,129.5 142.7,129.8 142.8,130.0 142.9,130.2 143.0,130.4 143.1,130.7 143.2,130.9 143.4,131.1 143.5,131.4" fill="none" stroke="#ef7b2c" stroke-width="2.0" stroke-linejoin="round"/>
<polyline points="145.0,131.0 145.1,130.8 145.2,130.6 145.3,130.3 145.4,130.1 145.5,129.9 145.6,129.6 145.7,129.4 145.8,129.2 145.9,128.9 146.0,128.7 146.1,128.5 146.2,128.3 146.3,128.0 146.4,128.2 146.6,128.4 146.7,128.6 146.9,128.8 147.0,129.1 147.2,129.3 147.3,129.5 147.5,129.7 147.6,129.9 147.8,130.1 147.9,129.8 148.0,129.6 148.1,129.3 148.2,129.1 148.3,128.8 148.4,128.6 148.5,128.3 148.6,128.1 148.7,127.8 148.8,127.6 148.9,127.3 149.0,127.1 149.1,127.3 149.2,127.5 149.3,127.8 149.4,128.0 149.5,128.2 149.6,128.5 149.7,128.7 149.8,128.9 149.9,129.2 150.0,129.4 150.1,129.6 150.3,129.8 150.6,129.9 150.8,130.1 151.0,130.2 151.1,130.0 151.2,129.7 151.2,129.5 151.3,129.3 151.4,129.0 151.4,128.8 151.5,128.5 151.6,128.3 151.6,128.0 151.7,127.8 151.8,127.6 151.9,127.8 152.1,128.0 152.2,128.2 152.4,128.4 152.6,128.7 152.7,128.9 152.8,129.1 152.9,129.4 153.0,129.6 153.1,129.8 153.2,130.0 153.4,130.3 153.5,130.5 153.6,130.7 153.7,131.0 153.8,131.2 153.9,131.4 154.0,131.7" fill="none" stroke="#ef7b2c" stroke-width="2.0" stroke-linejoin="round"/>
<polyline points="155.6,133.0 155.8,133.1 156.1,133.3 156.4,133.2 156.7,133.1" fill="none" stroke="#ef7b2c" stroke-width="2.0" stroke-linejoin="round"/>
<polyline points="52.6,124.2 52.8,124.0 53.0,123.8 53.2,123.5 53.3,123.8 53.4,124.0 53.5,124.3 53.6,124.5 53.7,124.7 53.8,125.0 53.9,125.2 54.0,125.5 54.1,125.7 54.3,125.5 54.5,125.3 54.6,125.1 54.8,124.9 54.9,124.7 55.1,124.5 55.3,124.3 55.4,124.1 55.6,123.9 55.7,124.1 55.8,124.4 55.8,124.6 55.9,124.9 56.0,125.2 56.1,125.4 56.2,125.7 56.3,125.9 56.3,126.2 56.5,126.0 56.7,125.8 56.8,125.5 57.0,125.3 57.2,125.1 57.3,124.9 57.5,124.7 57.7,124.4 57.8,124.7 57.9,124.9 58.0,125.2 58.1,125.5 58.2,125.7 58.3,126.0 58.4,126.2 58.6,126.0 58.7,125.8 58.9,125.6 59.0,125.3 59.2,125.1 59.3,124.9 59.5,124.7 59.6,124.4 59.8,124.7 60.0,124.9 60.1,125.1 60.3,125.3 60.5,125.5 60.7,125.7 60.9,126.0 61.0,126.2 61.3,126.1" fill="none" stroke="#404a54" stroke-width="1.7" stroke-linejoin="round"/>
<polyline points="63.0,126.2 63.1,126.0 63.2,125.7 63.3,125.5 63.4,125.2 63.5,125.0 63.6,124.8 63.7,124.5 63.8,124.3 63.9,124.0 64.0,123.8" fill="none" stroke="#404a54" stroke-width="1.7" stroke-linejoin="round"/>
<polyline points="65.8,124.3 66.1,124.2 66.3,124.1 66.6,124.0 66.8,124.2 67.1,124.4 67.3,124.6 67.4,124.8 67.6,125.0 67.7,125.2 67.8,125.5 68.0,125.7 68.1,125.9 68.2,126.1 68.4,126.3 68.5,126.1 68.7,125.9 68.8,125.7 69.0,125.4 69.1,125.2 69.3,125.0 69.4,124.8 69.5,124.5 69.7,124.7 69.9,124.9 70.0,125.1 70.2,125.3 70.3,125.5 70.5,125.7 70.6,125.9 70.8,126.1 71.0,126.3 71.1,126.1 71.3,126.0 71.5,125.8 71.7,125.6 71.8,125.4 72.0,125.2" fill="none" stroke="#404a54" stroke-width="1.7" stroke-linejoin="round"/>
<path d="M72.0,123.1 L72.5,123.6 L73.0,123.6 L73.5,125.1 L74.0,125.5 L74.5,124.9 L75.0,125.0 L75.5,124.7 L76.0,124.6 L76.5,124.3 L77.0,123.6 L77.5,123.4 L78.0,123.5 L78.5,122.7 L79.0,122.0 L79.5,120.8 L80.0,119.7 L80.5,117.8 L81.0,116.3 L81.5,114.8 L82.0,114.4 L82.5,113.5 L83.0,113.9 L83.5,112.6 L84.0,112.7 L84.5,111.8 L85.0,111.9 L85.5,112.4 L86.0,111.5 L86.5,111.7 L87.0,110.7 L87.5,107.5 L88.0,105.9 L88.5,101.7 L89.0,99.5 L89.5,95.3 L90.0,91.4 L90.5,87.0 L91.0,82.9 L91.5,80.5 L92.0,78.4 L92.5,77.0 L93.0,76.4 L93.5,76.3 L94.0,75.6 L94.5,74.6 L95.0,74.0 L95.5,74.0 L96.0,74.3 L96.5,74.1 L97.0,76.3 L97.5,77.2 L98.0,78.3 L98.5,80.1 L99.0,81.0 L99.5,81.5 L100.0,81.8 L100.5,82.0 L101.0,82.7 L101.5,83.0 L102.0,82.4 L102.5,83.5 L103.0,83.8 L103.5,84.7 L104.0,84.6 L104.5,85.0 L105.0,84.4 L105.5,84.9 L106.0,84.9 L106.5,85.2 L107.0,84.8 L107.5,85.8 L108.0,86.9 L108.5,86.4 L109.0,87.5 L109.5,87.6 L110.0,87.4 L110.5,87.9 L111.0,88.5 L111.5,88.5 L112.0,89.4 L112.5,88.8 L113.0,89.3 L113.5,88.7 L114.0,88.5 L114.5,87.7 L115.0,87.5 L115.5,87.5 L116.0,87.9 L116.5,87.4 L117.0,87.1 L117.5,87.9 L118.0,88.8 L118.5,89.4 L119.0,89.5 L119.5,90.5 L120.0,90.7 L120.5,90.9 L121.0,91.3 L121.5,91.8 L122.0,92.6 L122.5,93.7 L122.5,100.9 L122.0,98.5 L121.5,97.4 L121.0,98.5 L120.5,98.0 L120.0,98.3 L119.5,98.7 L119.0,98.7 L118.5,97.9 L118.0,97.3 L117.5,97.9 L117.0,96.8 L116.5,97.7 L116.0,98.1 L115.5,98.1 L115.0,98.0 L114.5,97.8 L114.0,97.6 L113.5,96.7 L113.0,96.2 L112.5,96.7 L112.0,95.6 L111.5,96.3 L111.0,96.5 L110.5,96.7 L110.0,97.3 L109.5,97.5 L109.0,97.2 L108.5,96.4 L108.0,95.9 L107.5,95.3 L107.0,95.2 L106.5,94.2 L106.0,94.5 L105.5,94.4 L105.0,95.0 L104.5,94.6 L104.0,94.3 L103.5,94.3 L103.0,94.0 L102.5,94.0 L102.0,93.8 L101.5,94.1 L101.0,92.7 L100.5,92.9 L100.0,91.4 L99.5,91.4 L99.0,90.1 L98.5,89.3 L98.0,89.2 L97.5,87.9 L97.0,87.2 L96.5,87.8 L96.0,86.9 L95.5,87.3 L95.0,88.0 L94.5,88.1 L94.0,88.0 L93.5,88.3 L93.0,89.5 L92.5,90.6 L92.0,92.0 L91.5,94.8 L91.0,97.7 L90.5,101.4 L90.0,105.3 L89.5,108.3 L89.0,111.7 L88.5,113.7 L88.0,117.2 L87.5,118.7 L87.0,121.6 L86.5,121.6 L86.0,121.8 L85.5,122.1 L85.0,122.0 L84.5,123.0 L84.0,123.5 L83.5,124.5 L83.0,124.9 L82.5,126.4 L82.0,127.4 L81.5,128.0 L81.0,128.4 L80.5,129.6 L80.0,129.9 L79.5,130.0 L79.0,131.2 L78.5,131.0 L78.0,130.3 L77.5,130.5 L77.0,130.7 L76.5,130.4 L76.0,131.1 L75.5,131.3 L75.0,131.4 L74.5,130.6 L74.0,130.8 L73.5,130.1 L73.0,129.8 L72.5,129.7 L72.0,130.0 Z" fill="#404a54"/>
<polyline points="72.0,127.4 72.5,127.4 73.0,127.4 73.5,127.4 74.0,127.5 74.5,127.5 75.0,127.5 75.5,127.5 76.0,127.5 76.5,127.4 77.0,127.3 77.5,127.2 78.0,127.1 78.5,127.0 79.0,126.2 79.5,125.3 80.0,124.5 80.5,123.5 81.0,122.5 81.5,121.6 82.0,120.9 82.5,120.2 83.0,119.5 83.5,119.0 84.0,118.5 84.5,118.0 85.0,117.5 85.5,117.0 86.0,116.2 86.5,115.3 87.0,114.5 87.5,112.2 88.0,110.0 88.5,107.5 89.0,105.0 89.5,101.5 90.0,98.0 90.5,94.2 91.0,90.5 91.5,87.9 92.0,85.2 92.5,84.2 93.0,83.1 93.5,82.0 94.0,81.7 94.5,81.3 95.0,81.0 95.5,81.2 96.0,81.5 96.5,81.8 97.0,82.8 97.5,83.9 98.0,85.0 98.5,85.8 99.0,86.5 99.5,87.2 100.0,87.5 100.5,87.8 101.0,88.0 101.5,88.3 102.0,88.6 102.5,88.8 103.0,89.1 103.5,89.3 104.0,89.5 104.5,89.8 105.0,90.0 105.5,90.3 106.0,90.5 106.5,90.8 107.0,91.0 107.5,91.3 108.0,91.5 108.5,91.6 109.0,91.7 109.5,91.8 110.0,91.9 110.5,91.9 111.0,92.1 111.5,92.2 112.0,92.4 112.5,92.6 113.0,92.8 113.5,93.0 114.0,92.9 114.5,92.9 115.0,92.8 115.5,92.8 116.0,92.7 116.5,92.7 117.0,92.7 117.5,92.8 118.0,92.9 118.5,93.0 119.0,93.2 119.5,93.4 120.0,93.6 120.5,94.0 121.0,94.5 121.5,95.0 122.0,95.5 122.5,97.5" fill="none" stroke="#404a54" stroke-width="2.6" stroke-linejoin="round"/>
<polyline points="123.0,98.0 123.0,97.9 123.0,98.1 123.0,98.4 123.1,98.7 123.1,98.9 123.1,99.2 123.2,99.4 123.2,99.7 123.2,99.9 123.3,100.2 123.3,100.4 123.4,100.7 123.4,100.9 123.4,101.2 123.5,101.4 123.5,101.7 123.5,101.9 123.6,102.2 123.6,102.4 123.6,102.7 123.6,103.0 123.6,102.8 123.6,102.5 123.7,102.2 123.7,102.0 123.7,101.7 123.7,101.5 123.8,101.2 123.8,101.0 123.8,101.2 123.8,101.5 123.9,101.7 123.9,102.0 123.9,102.3 123.9,102.5 123.9,102.8 124.0,103.1 124.0,103.3 124.0,103.6 124.0,103.8 124.0,104.1 124.1,104.4 124.1,104.6 124.0,104.4 123.9,104.1 123.8,103.8 123.9,104.1 123.9,104.3 124.0,104.6 124.1,104.9 124.1,105.1 124.2,105.4 124.3,105.6 124.3,105.9 124.4,106.2 124.5,106.4 124.5,106.7 124.6,106.4 124.6,106.1 124.7,105.9 124.7,105.6 124.7,105.3 124.8,105.6 124.8,105.8 124.8,106.1 124.8,106.3 124.9,106.6 124.9,106.8 124.9,107.1 124.9,107.3 125.0,107.6 125.0,107.9 125.0,108.1 125.1,108.4 125.1,108.6 125.2,108.3 125.4,108.0 125.4,108.2 125.5,108.5 125.6,108.7 125.7,109.0 125.7,109.2 125.8,109.5 125.9,109.7 126.0,109.9 126.1,110.2 126.1,110.4 126.2,110.7 126.3,110.9 126.4,111.2 126.4,111.4 126.5,111.2 126.6,111.0 126.7,110.7 126.8,110.5 126.9,110.3 127.0,110.0 127.1,109.8 127.2,109.5 127.3,109.3 127.4,109.1 127.5,108.8 127.6,108.6 127.6,108.9 127.7,109.1 127.8,109.4 127.9,109.6 128.0,109.8 128.1,110.1 128.2,110.3 128.3,110.6 128.4,110.8 128.5,111.1 128.5,111.3 128.6,111.6 128.7,111.8 128.8,112.1 128.9,112.3 129.0,112.1" fill="none" stroke="#404a54" stroke-width="1.9" stroke-linejoin="round"/>
<polyline points="130.6,111.6 130.7,111.9 130.7,112.2 130.8,112.4 130.8,112.7 130.9,112.9 130.9,113.2 131.0,113.4 131.0,113.7 131.1,113.4 131.2,113.2 131.3,112.9 131.4,112.7 131.5,112.4 131.5,112.1 131.6,111.9 131.7,111.6" fill="none" stroke="#404a54" stroke-width="1.9" stroke-linejoin="round"/>
<polyline points="133.3,112.5 133.4,112.3 133.5,112.1 133.6,111.8 133.7,111.6 133.8,111.3 133.9,111.1 134.0,110.9 134.1,111.1 134.2,111.4 134.3,111.6 134.4,111.8 134.5,112.1 134.7,112.3 134.8,112.6 134.9,112.8 135.0,113.1 135.1,113.3 135.3,113.5 135.4,113.3 135.4,113.1 135.5,112.8 135.6,112.6 135.7,112.3 135.8,112.1 135.9,111.8 136.1,111.9 136.4,112.0 136.6,112.0 136.9,112.1 137.1,112.2 137.2,112.4 137.2,112.7 137.3,113.0 137.4,113.2 137.4,113.5 137.5,113.8 137.5,114.0 137.6,114.3 137.7,114.6 137.7,114.8 138.0,114.9 138.3,115.0 138.5,115.1 138.8,115.2 139.1,115.4 139.2,115.1 139.3,114.8 139.4,114.6 139.5,114.3 139.6,114.0 139.6,113.8 139.7,113.5 139.8,113.7 139.9,114.0 139.9,114.2 140.0,114.5 140.1,114.7 140.1,115.0 140.2,115.2 140.3,115.5 140.4,115.7 140.4,116.0 140.5,116.2 140.6,116.5 140.6,116.7 140.7,117.0 140.8,117.2 140.8,117.0 140.9,116.7 141.0,116.5 141.1,116.2 141.2,116.0 141.3,115.7 141.3,115.5 141.4,115.2 141.5,115.0 141.6,114.7 141.7,114.5 141.8,114.2 141.8,114.0 141.9,113.7 142.0,113.5 142.1,113.7 142.1,114.0 142.2,114.2" fill="none" stroke="#404a54" stroke-width="1.9" stroke-linejoin="round"/>
<polyline points="143.9,115.9 144.1,115.7 144.2,115.5 144.3,115.7 144.4,116.0 144.5,116.2 144.5,116.5 144.6,116.7 144.7,117.0 144.7,117.2 144.8,117.5 144.9,117.7 144.9,118.0" fill="none" stroke="#404a54" stroke-width="1.9" stroke-linejoin="round"/>
<polyline points="146.5,117.9 146.5,118.1 146.6,118.4 146.6,118.6 146.7,118.9 146.7,119.1 146.7,119.4 146.8,119.6 146.8,119.9 146.9,120.2 147.1,120.0 147.3,119.8 147.5,119.6 147.8,119.4 148.0,119.2" fill="none" stroke="#404a54" stroke-width="1.9" stroke-linejoin="round"/>
<polyline points="52.0,298.5 72.0,298.5" fill="none" stroke="#4b94c9" stroke-width="1.3" stroke-linejoin="round" stroke-dasharray="7 2.5 1.3 2.5"/>
<polyline points="72.0,298.5 73.5,298.2 75.5,297.7 77.9,297.2 80.6,296.7 83.4,296.0 86.2,295.4 89.0,294.8 91.5,294.2 93.9,293.6 96.3,293.0 98.7,292.4 101.0,291.7 103.4,291.1 105.6,290.5 107.9,289.9 110.0,289.4 112.0,289.0 114.0,288.6 115.9,288.2 117.7,287.9 119.5,287.5 121.3,287.2 123.1,286.9 125.0,286.5 126.9,286.1 128.9,285.7 130.9,285.3 132.8,284.8 134.8,284.4 136.8,283.9 138.7,283.5 140.6,283.0 142.5,282.5 144.4,282.1 146.2,281.6 148.1,281.1 149.9,280.6 151.6,280.1 153.4,279.6 155.0,279.0 156.6,278.4 158.2,277.8 159.8,277.1 161.4,276.4 162.8,275.7 164.2,275.1 165.4,274.5 166.4,274.0 167.2,273.6 167.7,273.3 168.1,273.1 168.3,272.9 168.6,272.7 168.9,272.4 169.3,272.0 170.0,271.5 170.9,270.8 171.9,270.1 173.1,269.2 174.3,268.2 175.6,267.3 176.9,266.3 178.2,265.4 179.4,264.5 180.6,263.7 181.8,262.8 182.9,262.0 184.1,261.2 185.3,260.4 186.5,259.6 187.6,258.8 188.8,258.0 190.0,257.2 191.1,256.5 192.3,255.7 193.5,255.0 194.7,254.3 195.8,253.6 197.0,252.9 198.2,252.3 199.4,251.7 200.6,251.2 201.8,250.6 203.0,250.1 204.1,249.7 205.3,249.2 206.5,248.7 207.7,248.2 208.9,247.7 210.0,247.2 211.2,246.7 212.3,246.2 213.5,245.7 214.7,245.2 215.8,244.8 217.0,244.3 218.1,243.9 219.3,243.4 220.4,243.0 221.5,242.6 222.6,242.2 223.8,241.8 225.1,241.3 226.5,240.9 228.1,240.4 230.0,239.9 232.0,239.3 234.0,238.7 235.9,238.2 237.7,237.7 239.2,237.3 240.3,237.0" fill="none" stroke="#4b94c9" stroke-width="3.3" stroke-linejoin="round"/>
<polyline points="240.8,236.5 240.9,235.9 241.1,235.0 241.3,234.0 241.6,232.9 241.8,231.8 242.0,230.7 242.3,229.7 242.5,229.0 242.7,228.4 242.9,228.0 243.1,227.6 243.2,227.3 243.4,227.1 243.6,226.9 243.8,226.8 244.0,226.8 244.2,226.8 244.5,226.9 244.7,227.0 245.0,227.2 245.2,227.5 245.5,227.9 245.8,228.4 246.0,229.0 246.2,229.7 246.5,230.6 246.7,231.5 246.9,232.6 247.1,233.7 247.3,235.0 247.6,236.4 247.8,238.0 248.1,239.8 248.3,241.8 248.6,244.1 248.9,246.4 249.1,248.7 249.4,251.0 249.7,253.1 250.0,255.0 250.3,256.7 250.6,258.3 250.9,259.8 251.2,261.2 251.5,262.5 251.8,263.7 252.1,264.9 252.5,266.0 252.9,267.0 253.3,268.0 253.7,268.9 254.1,269.7 254.5,270.4 255.0,271.2 255.5,271.8 256.0,272.5 256.5,273.1 257.1,273.7 257.6,274.2 258.2,274.7 258.8,275.1 259.5,275.6 260.2,276.0 261.0,276.5 261.9,277.0 263.0,277.5 264.1,278.1 265.3,278.6 266.4,279.1 267.4,279.5 268.3,279.9 268.9,280.2" fill="none" stroke="#4b94c9" stroke-width="1.5" stroke-linejoin="round" stroke-dasharray="7 2.5 1.3 2.5"/>
<polyline points="52.0,295.8 72.0,295.8" fill="none" stroke="#f0b040" stroke-width="1.3" stroke-linejoin="round" stroke-dasharray="7 2.5 1.3 2.5"/>
<polyline points="72.0,296.0 73.1,295.6 74.6,295.1 76.4,294.6 78.4,293.9 80.4,293.2 82.5,292.6 84.4,292.0 86.1,291.5 87.6,291.1 89.0,290.7 90.3,290.4 91.6,290.1 92.8,289.8 94.1,289.6 95.5,289.3 96.9,289.0 98.4,288.7 100.0,288.4 101.6,288.2 103.2,287.9 104.8,287.6 106.5,287.3 108.3,287.1 110.0,286.8 111.8,286.5 113.6,286.2 115.5,286.0 117.4,285.7 119.3,285.4 121.2,285.1 123.1,284.9 125.0,284.6 126.8,284.3 128.4,284.1 130.0,283.9 131.6,283.6 133.3,283.4 135.2,283.1 137.4,282.9 140.0,282.6 143.0,282.3 146.2,282.0 149.7,281.6 153.4,281.3 157.4,281.0 161.4,280.6 165.7,280.3 170.0,280.0 174.6,279.7 179.5,279.5 184.7,279.2 190.0,278.9 195.3,278.7 200.5,278.5 205.4,278.2 210.0,278.0 214.2,277.8 218.0,277.5 221.5,277.3 225.0,277.1 228.5,276.9 232.0,276.7 235.8,276.5 240.0,276.3 244.5,276.1 249.4,275.9 254.4,275.7 259.6,275.5 264.8,275.4 270.0,275.2 275.1,275.0 280.0,274.8 285.0,274.6 290.2,274.4 295.5,274.1 300.8,273.9 305.6,273.7 310.0,273.5 313.7,273.3 316.5,273.2" fill="none" stroke="#f0b040" stroke-width="3.3" stroke-linejoin="round"/>
<polyline points="316.8,273.0 316.9,272.8 317.1,272.4 317.3,272.0 317.5,271.5 317.8,271.1 318.0,270.7 318.3,270.3 318.5,270.0 318.7,269.8 318.9,269.6 319.1,269.5 319.3,269.4 319.5,269.3 319.7,269.3 320.0,269.3 320.2,269.4 320.4,269.5 320.7,269.6 321.0,269.8 321.2,270.0 321.5,270.3 321.8,270.6 322.0,271.0 322.3,271.5 322.6,272.1 322.8,272.7 323.1,273.5 323.4,274.3 323.6,275.1 323.9,275.9 324.2,276.7 324.5,277.5 324.8,278.3 325.1,279.0 325.3,279.8 325.6,280.6 325.9,281.4 326.3,282.1 326.6,282.8 327.0,283.5 327.4,284.1 327.8,284.8 328.3,285.4 328.8,285.9 329.3,286.5 329.8,287.0 330.4,287.5 331.0,288.0 331.6,288.4 332.3,288.9 333.0,289.2 333.8,289.6 334.5,289.9 335.3,290.3 336.1,290.5 337.0,290.8 337.9,291.0 338.8,291.2 339.8,291.4 340.8,291.6 341.9,291.7 342.9,291.8 343.9,291.9 345.0,292.0 346.1,292.1 347.4,292.1 348.6,292.2 349.9,292.2 351.1,292.2 352.2,292.2 353.1,292.2 353.8,292.2" fill="none" stroke="#f0b040" stroke-width="1.5" stroke-linejoin="round" stroke-dasharray="7 2.5 1.3 2.5"/>
<polyline points="52.0,294.4 72.0,294.4" fill="none" stroke="#a6a6aa" stroke-width="1.3" stroke-linejoin="round" stroke-dasharray="7 2.5 1.3 2.5"/>
<polyline points="72.0,293.8 73.1,293.3 74.6,292.7 76.4,291.9 78.4,291.1 80.4,290.2 82.5,289.4 84.4,288.6 86.1,288.0 87.6,287.5 89.0,287.2 90.3,286.9 91.6,286.6 92.8,286.3 94.1,286.1 95.5,285.8 96.9,285.5 98.3,285.1 99.6,284.8 100.9,284.4 102.3,284.0 103.7,283.6 105.5,283.2 107.5,282.7 110.0,282.3 112.9,281.8 116.3,281.4 120.0,280.9 123.9,280.4 128.0,279.9 132.1,279.3 136.1,278.8 140.0,278.3 143.7,277.8 147.3,277.3 150.8,276.8 154.4,276.3 158.0,275.7 161.8,275.2 165.8,274.6 170.0,274.0 174.6,273.3 179.5,272.6 184.7,271.9 190.0,271.1 195.3,270.4 200.5,269.6 205.4,268.9 210.0,268.2 214.3,267.5 218.4,266.9 222.4,266.3 226.2,265.7 229.9,265.1 233.4,264.5 236.8,264.0 240.0,263.5 243.0,263.0 245.8,262.6 248.5,262.3 250.9,261.9 253.3,261.6 255.6,261.3 257.8,260.9 260.0,260.5 262.1,260.1 264.1,259.7 266.1,259.3 267.9,258.8 269.7,258.4 271.5,257.9 273.3,257.4 275.0,256.9 276.7,256.4 278.4,255.8 280.1,255.2 281.7,254.6 283.3,254.0 284.9,253.3 286.4,252.7 288.0,252.0 289.5,251.4 291.0,250.7 292.4,250.1 293.8,249.5 295.2,248.8 296.7,248.0 298.3,247.2 300.0,246.3 301.9,245.3 303.9,244.1 306.1,242.9 308.3,241.6 310.6,240.3 312.7,239.0 314.8,237.7 316.8,236.6 318.6,235.5 320.3,234.5 321.9,233.5 323.5,232.5 325.1,231.6 326.7,230.7 328.3,229.8 330.0,229.0 331.8,228.2 333.7,227.4 335.6,226.7 337.5,226.0 339.4,225.3 341.3,224.7 343.2,224.0 345.0,223.3 346.8,222.6 348.8,221.8 350.7,221.1 352.6,220.3 354.4,219.6 355.9,218.9 357.3,218.4 358.3,218.0" fill="none" stroke="#a6a6aa" stroke-width="3.3" stroke-linejoin="round"/>
<polyline points="358.6,217.5 358.7,216.8 358.9,215.8 359.2,214.7 359.4,213.5 359.7,212.2 360.0,211.0 360.2,209.9 360.5,209.0 360.7,208.3 361.0,207.7 361.2,207.1 361.5,206.7 361.7,206.3 362.0,206.0 362.2,205.9 362.5,205.8 362.8,205.8 363.1,206.0 363.4,206.2 363.7,206.6 364.0,207.0 364.4,207.6 364.7,208.2 365.0,209.0 365.3,209.9 365.6,210.9 365.9,212.0 366.2,213.3 366.6,214.6 366.9,216.0 367.2,217.5 367.5,219.0 367.8,220.6 368.1,222.4 368.4,224.3 368.8,226.3 369.1,228.3 369.4,230.3 369.7,232.2 370.0,234.0 370.3,235.7 370.6,237.5 370.9,239.2 371.2,240.8 371.5,242.4 371.8,244.0 372.2,245.5 372.5,247.0 372.8,248.4 373.2,249.8 373.6,251.1 373.9,252.4 374.3,253.6 374.7,254.8 375.1,255.9 375.5,257.0 375.9,258.0 376.3,258.9 376.8,259.8 377.2,260.6 377.6,261.4 378.1,262.1 378.5,262.8 379.0,263.5 379.5,264.1 379.9,264.7 380.4,265.2 380.9,265.7 381.4,266.2 381.9,266.7 382.4,267.1 383.0,267.5 383.5,267.9 384.0,268.3 384.5,268.6 385.0,268.9 385.6,269.3 386.2,269.6 387.0,269.9 388.0,270.2 389.1,270.5 390.4,270.8 391.8,271.1 393.3,271.4 394.9,271.7 396.6,272.0 398.3,272.3 400.0,272.6 401.6,272.9 403.1,273.1 404.7,273.3 406.3,273.5 408.0,273.7 410.1,274.0 412.5,274.3 415.4,274.6 418.9,275.0 423.0,275.4 427.5,275.9 432.3,276.4 437.1,277.0 441.9,277.5 446.4,278.0 450.5,278.4 454.4,278.8 458.4,279.2 462.2,279.6 465.9,280.0 469.4,280.4 472.4,280.7 475.0,281.0 477.0,281.2" fill="none" stroke="#a6a6aa" stroke-width="1.5" stroke-linejoin="round" stroke-dasharray="7 2.5 1.3 2.5"/>
<polyline points="52.0,292.6 72.0,292.6" fill="none" stroke="#ef7b2c" stroke-width="1.3" stroke-linejoin="round" stroke-dasharray="7 2.5 1.3 2.5"/>
<polyline points="72.0,292.0 72.7,291.7 73.7,291.4 74.8,291.0 76.1,290.5 77.4,290.1 78.6,289.6 79.8,289.2 80.8,288.8 81.6,288.5 82.4,288.2 83.0,287.9 83.7,287.7 84.3,287.4 84.8,287.2 85.5,286.9 86.1,286.6 86.8,286.3 87.4,286.0 88.1,285.7 88.8,285.4 89.5,285.1 90.1,284.7 90.8,284.4 91.5,284.0 92.2,283.6 92.8,283.1 93.5,282.7 94.2,282.2 94.9,281.7 95.5,281.2 96.2,280.8 96.9,280.3 97.6,279.9 98.3,279.4 99.0,279.0 99.7,278.6 100.4,278.2 101.0,277.8 101.7,277.4 102.3,277.0 102.9,276.6 103.5,276.3 104.0,276.0 104.6,275.7 105.1,275.4 105.6,275.1 106.1,274.8 106.6,274.5 107.1,274.2 107.5,274.0 107.8,273.8 108.2,273.5 108.6,273.3 109.0,273.1 109.5,272.8 110.0,272.5 110.6,272.2 111.3,271.8 112.0,271.4 112.8,271.0 113.6,270.5 114.4,270.1 115.2,269.7 116.0,269.3 116.9,268.9 117.8,268.4 118.9,268.0 119.9,267.6 120.8,267.1 121.7,266.8 122.5,266.4 123.0,266.2" fill="none" stroke="#ef7b2c" stroke-width="3.3" stroke-linejoin="round"/>
<polyline points="123.2,266.0 123.3,265.7 123.5,265.3 123.7,264.8 123.9,264.2 124.2,263.7 124.5,263.1 124.7,262.5 125.0,262.0 125.3,261.5 125.6,261.0 125.9,260.5 126.2,260.0 126.5,259.5 126.8,259.1 127.2,258.7 127.5,258.3 127.8,258.0 128.2,257.6 128.6,257.3 128.9,257.0 129.3,256.8 129.7,256.7 130.0,256.7 130.3,256.8 130.6,257.1 130.8,257.4 131.1,257.9 131.3,258.5 131.5,259.1 131.7,259.8 132.0,260.6 132.2,261.5 132.4,262.5 132.7,263.6 132.9,264.8 133.1,266.0 133.4,267.3 133.6,268.6 133.9,269.8 134.1,270.9 134.3,271.9 134.6,273.0 134.8,273.9 135.0,274.9 135.2,275.8 135.5,276.7 135.7,277.6 136.0,278.4 136.3,279.2 136.6,280.0 136.9,280.8 137.2,281.5 137.5,282.2 137.9,282.8 138.3,283.4 138.8,284.0 139.4,284.5 140.0,284.9 140.8,285.4 141.5,285.7 142.3,286.0 143.1,286.3 143.8,286.6 144.4,286.8 144.9,287.0 145.4,287.1 145.8,287.2 146.2,287.2 146.6,287.3 147.1,287.3 147.6,287.3 148.2,287.4 149.0,287.5 149.8,287.5 150.8,287.6 151.8,287.6 152.8,287.7 153.7,287.7 154.5,287.8 155.0,287.8" fill="none" stroke="#ef7b2c" stroke-width="1.5" stroke-linejoin="round" stroke-dasharray="7 2.5 1.3 2.5"/>
<polyline points="52.0,288.0 72.0,288.0" fill="none" stroke="#0c62b2" stroke-width="1.3" stroke-linejoin="round" stroke-dasharray="7 2.5 1.3 2.5"/>
<polyline points="72.0,288.3 72.5,288.2 73.2,288.1 74.0,287.9 74.9,287.8 75.8,287.6 76.8,287.4 77.7,287.2 78.6,287.0 79.4,286.8 80.3,286.5 81.1,286.3 82.0,286.0 82.8,285.7 83.6,285.4 84.3,285.1 85.0,284.8 85.6,284.5 86.2,284.2 86.7,283.9 87.2,283.5 87.7,283.2 88.2,282.9 88.6,282.5 89.0,282.2 89.4,281.9 89.7,281.6 90.0,281.3 90.2,281.0 90.5,280.7 90.8,280.4 91.1,280.0 91.5,279.5 92.0,279.0 92.4,278.4 93.0,277.8 93.5,277.1 94.1,276.4 94.7,275.7 95.3,274.9 95.8,274.2 96.3,273.4 96.9,272.7 97.4,271.9 97.9,271.0 98.5,270.2 99.0,269.4 99.6,268.6 100.1,267.8 100.6,267.1 101.1,266.4 101.6,265.8 102.1,265.1 102.6,264.4 103.2,263.7 103.8,262.9 104.4,262.0 105.1,260.9 105.9,259.8 106.6,258.5 107.5,257.2 108.3,255.9 109.2,254.6 110.0,253.3 110.8,252.1 111.6,250.9 112.5,249.8 113.3,248.6 114.2,247.5 115.0,246.4 115.8,245.4 116.6,244.4 117.2,243.5 117.8,242.7 118.3,242.0 118.7,241.4 119.1,240.8 119.5,240.3 119.8,239.7 120.1,239.2 120.4,238.7 120.7,238.2 120.9,237.7 121.1,237.2 121.3,236.7 121.5,236.2 121.7,235.7 121.8,235.3 122.0,234.9 122.2,234.5 122.3,234.1 122.5,233.7 122.7,233.3 122.8,233.0 122.9,232.7 123.0,232.4 123.1,232.2" fill="none" stroke="#0c62b2" stroke-width="3.3" stroke-linejoin="round"/>
<polyline points="123.3,232.0 123.5,231.7 123.7,231.3 123.9,230.9 124.2,230.4 124.5,229.8 124.7,229.3 125.0,228.9 125.3,228.5 125.6,228.1 125.8,227.8 126.1,227.4 126.4,227.0 126.6,226.8 126.9,226.6 127.1,226.6 127.4,226.8 127.7,227.2 127.9,227.9 128.2,228.7 128.4,229.6 128.7,230.6 128.9,231.5 129.2,232.5 129.4,233.3 129.6,234.1 129.9,234.8 130.1,235.5 130.4,236.3 130.6,236.9 130.8,237.6 131.1,238.3 131.3,238.9 131.5,239.5 131.8,240.1 132.0,240.7 132.3,241.3 132.5,241.8 132.7,242.3 132.9,242.7 133.0,243.0" fill="none" stroke="#0c62b2" stroke-width="1.5" stroke-linejoin="round" stroke-dasharray="7 2.5 1.3 2.5"/>
<polyline points="52.0,289.1 72.0,289.1" fill="none" stroke="#404a54" stroke-width="1.3" stroke-linejoin="round" stroke-dasharray="7 2.5 1.3 2.5"/>
<polyline points="72.0,288.8 72.5,288.7 73.2,288.6 74.0,288.5 74.9,288.4 75.8,288.3 76.8,288.1 77.7,288.0 78.6,287.8 79.4,287.6 80.3,287.4 81.1,287.1 81.9,286.9 82.8,286.6 83.5,286.4 84.3,286.1 85.0,285.8 85.7,285.5 86.3,285.2 86.8,284.9 87.4,284.6 87.9,284.3 88.4,284.0 88.9,283.7 89.4,283.3 89.9,282.9 90.3,282.5 90.7,282.2 91.1,281.7 91.5,281.3 91.8,280.9 92.2,280.5 92.6,280.0 93.0,279.5 93.4,279.1 93.8,278.6 94.1,278.1 94.5,277.6 94.9,277.1 95.3,276.6 95.8,276.0 96.3,275.4 96.8,274.7 97.3,274.0 97.9,273.3 98.4,272.6 99.0,271.9 99.6,271.2 100.1,270.5 100.6,269.9 101.2,269.3 101.7,268.7 102.3,268.1 102.8,267.5 103.3,266.9 103.9,266.4 104.4,265.8 104.9,265.3 105.4,264.8 105.8,264.3 106.3,263.9 106.8,263.4 107.3,262.8 107.9,262.2 108.6,261.5 109.4,260.6 110.3,259.7 111.3,258.6 112.3,257.5 113.3,256.4 114.3,255.2 115.2,254.2 116.1,253.2 116.9,252.3 117.7,251.3 118.4,250.4 119.1,249.6 119.8,248.8 120.4,248.0 121.0,247.3 121.5,246.7 121.9,246.2 122.3,245.8 122.7,245.4 122.9,245.1 123.2,244.9 123.4,244.7 123.6,244.5 123.7,244.4" fill="none" stroke="#404a54" stroke-width="3.3" stroke-linejoin="round"/>
<polyline points="123.8,244.2 123.9,243.9 124.1,243.5 124.3,243.1 124.5,242.6 124.7,242.1 124.9,241.5 125.2,241.0 125.5,240.5 125.8,240.0 126.2,239.4 126.5,238.7 126.9,238.1 127.3,237.5 127.7,237.1 128.1,236.7 128.5,236.6 128.9,236.6 129.2,236.8 129.5,237.1 129.9,237.5 130.2,238.0 130.5,238.5 130.9,239.2 131.3,239.9 131.7,240.7 132.2,241.7 132.6,242.9 133.1,244.1 133.6,245.3 134.0,246.4 134.5,247.4 135.0,248.3 135.5,249.0 135.9,249.6 136.4,250.0 136.9,250.4 137.4,250.8 137.8,251.2 138.3,251.6 138.8,252.1 139.3,252.6 139.8,253.2 140.3,253.8 140.8,254.3 141.2,254.9 141.7,255.5 142.2,256.2 142.6,256.8 143.0,257.5 143.4,258.1 143.7,258.8 144.1,259.5 144.4,260.3 144.7,261.0 145.1,261.7 145.4,262.4 145.8,263.1 146.2,263.9 146.6,264.7 147.0,265.5 147.4,266.3 147.7,267.0 148.0,267.6 148.2,268.0" fill="none" stroke="#404a54" stroke-width="1.5" stroke-linejoin="round" stroke-dasharray="7 2.5 1.3 2.5"/>
<line x1="72.2" y1="21.2" x2="72.2" y2="332.7" stroke="#aaaaaa" stroke-width="1.4" stroke-dasharray="3.9 2.4"/>
<line x1="123.0" y1="21.2" x2="123.0" y2="332.7" stroke="#383838" stroke-width="1.9" stroke-dasharray="4.1 2.2"/>
<line x1="241.0" y1="21.2" x2="241.0" y2="332.7" stroke="#86b8e0" stroke-width="1.9" stroke-dasharray="3.9 2.4"/>
<line x1="316.8" y1="21.2" x2="316.8" y2="332.7" stroke="#f6c87c" stroke-width="1.9" stroke-dasharray="3.9 2.4"/>
<line x1="358.9" y1="21.2" x2="358.9" y2="332.7" stroke="#b4b4b4" stroke-width="1.9" stroke-dasharray="3.9 2.4"/>
<line x1="51.45" y1="21.2" x2="51.45" y2="171.2" stroke="#77787a" stroke-width="1.3"/>
<line x1="51.5" y1="170.5" x2="476.9" y2="170.5" stroke="#97989a" stroke-width="1.5"/>
<line x1="51.5" y1="21.2" x2="56.5" y2="21.2" stroke="#4a4a4a" stroke-width="1.3"/>
<line x1="51.5" y1="58.5" x2="56.5" y2="58.5" stroke="#4a4a4a" stroke-width="1.3"/>
<line x1="51.5" y1="95.8" x2="56.5" y2="95.8" stroke="#4a4a4a" stroke-width="1.3"/>
<line x1="51.5" y1="133.1" x2="56.5" y2="133.1" stroke="#4a4a4a" stroke-width="1.3"/>
<line x1="51.5" y1="170.4" x2="56.5" y2="170.4" stroke="#4a4a4a" stroke-width="1.3"/>
<line x1="72.3" y1="170.5" x2="72.3" y2="166.0" stroke="#555" stroke-width="1.2"/>
<line x1="122.9" y1="170.5" x2="122.9" y2="166.0" stroke="#555" stroke-width="1.2"/>
<line x1="173.4" y1="170.5" x2="173.4" y2="166.0" stroke="#555" stroke-width="1.2"/>
<line x1="224.0" y1="170.5" x2="224.0" y2="166.0" stroke="#555" stroke-width="1.2"/>
<line x1="274.6" y1="170.5" x2="274.6" y2="166.0" stroke="#555" stroke-width="1.2"/>
<line x1="325.2" y1="170.5" x2="325.2" y2="166.0" stroke="#555" stroke-width="1.2"/>
<line x1="375.8" y1="170.5" x2="375.8" y2="166.0" stroke="#555" stroke-width="1.2"/>
<line x1="426.3" y1="170.5" x2="426.3" y2="166.0" stroke="#555" stroke-width="1.2"/>
<line x1="476.9" y1="170.5" x2="476.9" y2="166.0" stroke="#555" stroke-width="1.2"/>
<line x1="51.70" y1="187.4" x2="51.70" y2="333.9" stroke="#a4a4a4" stroke-width="1.9"/>
<line x1="51.7" y1="332.9" x2="476.9" y2="332.9" stroke="#b6b7b7" stroke-width="2.0"/>
<line x1="51.7" y1="187.4" x2="56.7" y2="187.4" stroke="#4a4a4a" stroke-width="1.3"/>
<line x1="51.7" y1="235.8" x2="56.7" y2="235.8" stroke="#4a4a4a" stroke-width="1.3"/>
<line x1="51.7" y1="284.3" x2="56.7" y2="284.3" stroke="#4a4a4a" stroke-width="1.3"/>
<line x1="51.7" y1="332.7" x2="56.7" y2="332.7" stroke="#4a4a4a" stroke-width="1.3"/>
<line x1="72.3" y1="332.9" x2="72.3" y2="328.4" stroke="#555" stroke-width="1.2"/>
<line x1="122.9" y1="332.9" x2="122.9" y2="328.4" stroke="#555" stroke-width="1.2"/>
<line x1="173.4" y1="332.9" x2="173.4" y2="328.4" stroke="#555" stroke-width="1.2"/>
<line x1="224.0" y1="332.9" x2="224.0" y2="328.4" stroke="#555" stroke-width="1.2"/>
<line x1="274.6" y1="332.9" x2="274.6" y2="328.4" stroke="#555" stroke-width="1.2"/>
<line x1="325.2" y1="332.9" x2="325.2" y2="328.4" stroke="#555" stroke-width="1.2"/>
<line x1="375.8" y1="332.9" x2="375.8" y2="328.4" stroke="#555" stroke-width="1.2"/>
<line x1="426.3" y1="332.9" x2="426.3" y2="328.4" stroke="#555" stroke-width="1.2"/>
<line x1="476.9" y1="332.9" x2="476.9" y2="328.4" stroke="#555" stroke-width="1.2"/>
<line x1="72.3" y1="21.3" x2="121.5" y2="21.3" stroke="#4a4a4a" stroke-width="1.8"/>
<path d="M124.0,21.3 L119.0,18.7 L120.9,21.3 L119.0,23.9 Z" fill="#111"/>
<line x1="72.3" y1="24.8" x2="237.1" y2="24.8" stroke="#b2d3ea" stroke-width="2.0"/>
<path d="M239.6,24.8 L235.0,22.2 L236.7,24.8 L235.0,27.4 Z" fill="#4b94c9"/>
<line x1="72.3" y1="28.6" x2="314.5" y2="28.6" stroke="#ea8a4a" stroke-width="1.3"/>
<path d="M317.0,28.6 L312.4,26.0 L314.1,28.6 L312.4,31.2 Z" fill="#e8742c"/>
<line x1="72.3" y1="33.2" x2="356.1" y2="33.2" stroke="#a9a9ab" stroke-width="1.5"/>
<path d="M358.6,33.2 L354.0,30.6 L355.7,33.2 L354.0,35.8 Z" fill="#9a9a9c"/>
<text x="46.6" y="25.9" font-size="14.4" text-anchor="end" font-family="Liberation Serif" fill="#303030">30</text>
<text x="46.6" y="63.2" font-size="14.4" text-anchor="end" font-family="Liberation Serif" fill="#303030">25</text>
<text x="46.6" y="100.5" font-size="14.4" text-anchor="end" font-family="Liberation Serif" fill="#303030">20</text>
<text x="46.6" y="137.8" font-size="14.4" text-anchor="end" font-family="Liberation Serif" fill="#303030">15</text>
<text x="46.6" y="175.1" font-size="14.4" text-anchor="end" font-family="Liberation Serif" fill="#303030">10</text>
<text x="46.6" y="192.1" font-size="14.4" text-anchor="end" font-family="Liberation Serif" fill="#303030">200</text>
<text x="46.6" y="240.5" font-size="14.4" text-anchor="end" font-family="Liberation Serif" fill="#303030">150</text>
<text x="46.6" y="289.0" font-size="14.4" text-anchor="end" font-family="Liberation Serif" fill="#303030">100</text>
<text x="46.6" y="337.4" font-size="14.4" text-anchor="end" font-family="Liberation Serif" fill="#303030">50</text>
<text x="72.3" y="352" font-size="14.4" text-anchor="middle" font-family="Liberation Serif" fill="#303030">0</text>
<text x="122.9" y="352" font-size="14.4" text-anchor="middle" font-family="Liberation Serif" fill="#303030">50</text>
<text x="173.4" y="352" font-size="14.4" text-anchor="middle" font-family="Liberation Serif" fill="#303030">100</text>
<text x="224.0" y="352" font-size="14.4" text-anchor="middle" font-family="Liberation Serif" fill="#303030">150</text>
<text x="274.6" y="352" font-size="14.4" text-anchor="middle" font-family="Liberation Serif" fill="#303030">200</text>
<text x="325.2" y="352" font-size="14.4" text-anchor="middle" font-family="Liberation Serif" fill="#303030">250</text>
<text x="375.8" y="352" font-size="14.4" text-anchor="middle" font-family="Liberation Serif" fill="#303030">300</text>
<text x="426.3" y="352" font-size="14.4" text-anchor="middle" font-family="Liberation Serif" fill="#303030">350</text>
<text x="476.9" y="352" font-size="14.4" text-anchor="middle" font-family="Liberation Serif" fill="#303030">400</text>
<text x="264.3" y="371" font-size="15.8" text-anchor="middle" font-family="Liberation Serif" fill="#303030">Time t in s</text>
<text transform="translate(12.2,139.2) rotate(-90)" font-size="15.9" font-family="Liberation Serif" fill="#303030">T<tspan font-size="12.6" dy="7.3">L,Eng</tspan><tspan dy="-7.3"> in Nm</tspan></text>
<text transform="translate(11.4,288) rotate(-90)" font-size="15.9" font-family="Liberation Serif" fill="#303030"><tspan font-style="italic">&#977;</tspan><tspan font-size="12.6" dx="1.4" dy="6.8">F</tspan><tspan dx="1.0" dy="-6.8"> in &#176;C</tspan></text>
<text x="77.6" y="13.9" font-size="15.9" font-family="Liberation Serif" fill="#303030">t<tspan font-size="11.4" dy="3.9">LOL</tspan></text>
<rect x="403.0" y="21.5" width="74.4" height="37.3" fill="#fff"/>
<line x1="403.0" y1="21.5" x2="477.4" y2="21.5" stroke="#333" stroke-width="1.2"/>
<line x1="477.4" y1="21.5" x2="477.4" y2="58.8" stroke="#444" stroke-width="1.2"/>
<line x1="403.0" y1="58.8" x2="477.4" y2="58.8" stroke="#333" stroke-width="1.2"/>
<line x1="403.0" y1="21.5" x2="403.0" y2="58.8" stroke="#333" stroke-width="1.2"/>
<text x="405.4" y="36.2" font-size="13" font-family="Liberation Serif" fill="#303030">&#977;<tspan font-size="9.5" dy="3.4">Oil</tspan><tspan dx="-1" dy="-3.4"> = 90 &#176;C</tspan></text>
<text x="405.4" y="51.5" font-size="13" font-family="Liberation Serif" fill="#303030">v<tspan font-size="9.5" dy="3.4">t</tspan><tspan dy="-3.4"> = 40 m/s</tspan></text>
<rect x="322.3" y="66.5" width="154.3" height="34.8" fill="#fff"/>
<line x1="322.3" y1="66.5" x2="476.6" y2="66.5" stroke="#6a6a6a" stroke-width="1.2"/>
<line x1="476.6" y1="66.5" x2="476.6" y2="101.3" stroke="#7a7a7a" stroke-width="1.2"/>
<line x1="322.3" y1="101.3" x2="476.6" y2="101.3" stroke="#5a5a5a" stroke-width="1.2"/>
<line x1="322.3" y1="66.5" x2="322.3" y2="101.3" stroke="#9a9a9a" stroke-width="1.2"/>
<line x1="325.5" y1="75.8" x2="361.5" y2="75.8" stroke="#262626" stroke-width="2" stroke-dasharray="7 3 1.5 3"/>
<line x1="325.5" y1="91.7" x2="361.5" y2="91.7" stroke="#262626" stroke-width="2.2"/>
<text x="364.3" y="81" font-size="13.3" font-family="Liberation Serif" fill="#303030">Injection lubrication</text>
<text x="364.3" y="96.8" font-size="13.3" font-family="Liberation Serif" fill="#303030">Loss of lubrication</text>
<rect x="485.1" y="21.5" width="199.3" height="80.1" fill="#fff"/>
<line x1="485.1" y1="21.5" x2="684.4" y2="21.5" stroke="#565656" stroke-width="1.2"/>
<line x1="684.4" y1="21.5" x2="684.4" y2="101.6" stroke="#666" stroke-width="1.2"/>
<line x1="485.1" y1="101.6" x2="684.4" y2="101.6" stroke="#999" stroke-width="1.2"/>
<line x1="485.1" y1="21.5" x2="485.1" y2="101.6" stroke="#aaa" stroke-width="1.2"/>
<line x1="491" y1="38.2" x2="508.4" y2="38.2" stroke="#4b94c9" stroke-width="2.8"/>
<line x1="594.5" y1="38.2" x2="611" y2="38.2" stroke="#0c62b2" stroke-width="2.8"/>
<text x="516.6" y="41.7" font-size="12.9" font-family="Liberation Serif" fill="#303030">LS7 - REF</text>
<text x="618.2" y="41.7" font-size="12.9" font-family="Liberation Serif" fill="#303030">LS9 - REF</text>
<line x1="491" y1="62.8" x2="508.4" y2="62.8" stroke="#f0b040" stroke-width="2.8"/>
<line x1="594.5" y1="62.8" x2="611" y2="62.8" stroke="#ef7b2c" stroke-width="2.8"/>
<text x="516.6" y="66.3" font-size="12.9" font-family="Liberation Serif" fill="#303030">LS7 - CO3</text>
<text x="618.2" y="66.3" font-size="12.9" font-family="Liberation Serif" fill="#303030">LS9 - CO3</text>
<line x1="491" y1="86.6" x2="508.4" y2="86.6" stroke="#a6a6aa" stroke-width="2.8"/>
<line x1="594.5" y1="86.6" x2="611" y2="86.6" stroke="#404a54" stroke-width="2.8"/>
<text x="516.6" y="90.1" font-size="12.9" font-family="Liberation Serif" fill="#303030">LS7 - NIT</text>
<text x="618.2" y="90.1" font-size="12.9" font-family="Liberation Serif" fill="#303030">LS9 - NIT</text>
</svg>
</body></html>
